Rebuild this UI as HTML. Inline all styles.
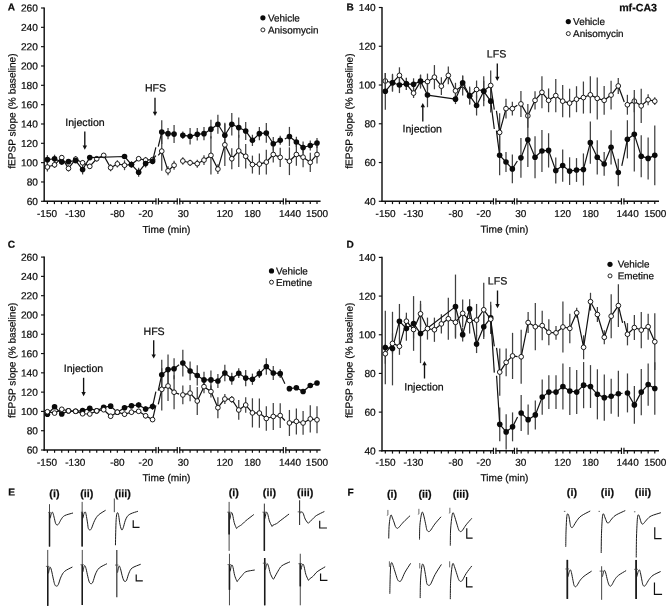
<!DOCTYPE html>
<html><head><meta charset="utf-8"><style>
html,body{margin:0;padding:0;background:#fff;}
svg{display:block;will-change:transform;}
text{font-family:"Liberation Sans",sans-serif;fill:#0c0c0c;stroke:#0c0c0c;stroke-width:0.22px;text-rendering:geometricPrecision;}
</style></head><body>
<svg width="669" height="611" viewBox="0 0 669 611">
<rect x="0" y="0" width="669" height="611" fill="#fff"/>
<line x1="44.20" y1="7.40" x2="44.20" y2="202.00" stroke="#111" stroke-width="1.45" />
<line x1="43.50" y1="201.30" x2="320.60" y2="201.30" stroke="#111" stroke-width="1.4" />
<line x1="41.00" y1="201.30" x2="44.20" y2="201.30" stroke="#111" stroke-width="1.15" />
<text x="37.90" y="204.90" transform="rotate(0.05 37.90 204.90)" font-size="10.15" text-anchor="end" font-weight="normal" >60</text>
<line x1="41.00" y1="181.97" x2="44.20" y2="181.97" stroke="#111" stroke-width="1.15" />
<text x="37.90" y="185.57" transform="rotate(0.05 37.90 185.57)" font-size="10.15" text-anchor="end" font-weight="normal" >80</text>
<line x1="41.00" y1="162.64" x2="44.20" y2="162.64" stroke="#111" stroke-width="1.15" />
<text x="37.90" y="166.24" transform="rotate(0.05 37.90 166.24)" font-size="10.15" text-anchor="end" font-weight="normal" >100</text>
<line x1="41.00" y1="143.31" x2="44.20" y2="143.31" stroke="#111" stroke-width="1.15" />
<text x="37.90" y="146.91" transform="rotate(0.05 37.90 146.91)" font-size="10.15" text-anchor="end" font-weight="normal" >120</text>
<line x1="41.00" y1="123.98" x2="44.20" y2="123.98" stroke="#111" stroke-width="1.15" />
<text x="37.90" y="127.58" transform="rotate(0.05 37.90 127.58)" font-size="10.15" text-anchor="end" font-weight="normal" >140</text>
<line x1="41.00" y1="104.65" x2="44.20" y2="104.65" stroke="#111" stroke-width="1.15" />
<text x="37.90" y="108.25" transform="rotate(0.05 37.90 108.25)" font-size="10.15" text-anchor="end" font-weight="normal" >160</text>
<line x1="41.00" y1="85.32" x2="44.20" y2="85.32" stroke="#111" stroke-width="1.15" />
<text x="37.90" y="88.92" transform="rotate(0.05 37.90 88.92)" font-size="10.15" text-anchor="end" font-weight="normal" >180</text>
<line x1="41.00" y1="65.99" x2="44.20" y2="65.99" stroke="#111" stroke-width="1.15" />
<text x="37.90" y="69.59" transform="rotate(0.05 37.90 69.59)" font-size="10.15" text-anchor="end" font-weight="normal" >200</text>
<line x1="41.00" y1="46.66" x2="44.20" y2="46.66" stroke="#111" stroke-width="1.15" />
<text x="37.90" y="50.26" transform="rotate(0.05 37.90 50.26)" font-size="10.15" text-anchor="end" font-weight="normal" >220</text>
<line x1="41.00" y1="27.33" x2="44.20" y2="27.33" stroke="#111" stroke-width="1.15" />
<text x="37.90" y="30.93" transform="rotate(0.05 37.90 30.93)" font-size="10.15" text-anchor="end" font-weight="normal" >240</text>
<line x1="41.00" y1="8.00" x2="44.20" y2="8.00" stroke="#111" stroke-width="1.15" />
<text x="37.90" y="11.60" transform="rotate(0.05 37.90 11.60)" font-size="10.15" text-anchor="end" font-weight="normal" >260</text>
<line x1="47.40" y1="201.30" x2="47.40" y2="204.10" stroke="#111" stroke-width="1.2" />
<line x1="54.42" y1="201.30" x2="54.42" y2="204.10" stroke="#111" stroke-width="1.2" />
<line x1="61.44" y1="201.30" x2="61.44" y2="204.10" stroke="#111" stroke-width="1.2" />
<line x1="68.46" y1="201.30" x2="68.46" y2="204.10" stroke="#111" stroke-width="1.2" />
<line x1="75.48" y1="201.30" x2="75.48" y2="204.10" stroke="#111" stroke-width="1.2" />
<line x1="82.50" y1="201.30" x2="82.50" y2="204.10" stroke="#111" stroke-width="1.2" />
<line x1="89.52" y1="201.30" x2="89.52" y2="204.10" stroke="#111" stroke-width="1.2" />
<line x1="96.54" y1="201.30" x2="96.54" y2="204.10" stroke="#111" stroke-width="1.2" />
<line x1="103.56" y1="201.30" x2="103.56" y2="204.10" stroke="#111" stroke-width="1.2" />
<line x1="110.58" y1="201.30" x2="110.58" y2="204.10" stroke="#111" stroke-width="1.2" />
<line x1="117.60" y1="201.30" x2="117.60" y2="204.10" stroke="#111" stroke-width="1.2" />
<line x1="124.62" y1="201.30" x2="124.62" y2="204.10" stroke="#111" stroke-width="1.2" />
<line x1="131.64" y1="201.30" x2="131.64" y2="204.10" stroke="#111" stroke-width="1.2" />
<line x1="138.66" y1="201.30" x2="138.66" y2="204.10" stroke="#111" stroke-width="1.2" />
<line x1="145.68" y1="201.30" x2="145.68" y2="204.10" stroke="#111" stroke-width="1.2" />
<line x1="152.70" y1="201.30" x2="152.70" y2="204.10" stroke="#111" stroke-width="1.2" />
<line x1="161.75" y1="201.30" x2="161.75" y2="204.10" stroke="#111" stroke-width="1.2" />
<line x1="168.03" y1="201.30" x2="168.03" y2="204.10" stroke="#111" stroke-width="1.2" />
<line x1="174.08" y1="201.30" x2="174.08" y2="204.10" stroke="#111" stroke-width="1.2" />
<line x1="182.83" y1="201.30" x2="182.83" y2="204.10" stroke="#111" stroke-width="1.2" />
<line x1="190.09" y1="201.30" x2="190.09" y2="204.10" stroke="#111" stroke-width="1.2" />
<line x1="197.26" y1="201.30" x2="197.26" y2="204.10" stroke="#111" stroke-width="1.2" />
<line x1="203.99" y1="201.30" x2="203.99" y2="204.10" stroke="#111" stroke-width="1.2" />
<line x1="210.94" y1="201.30" x2="210.94" y2="204.10" stroke="#111" stroke-width="1.2" />
<line x1="217.89" y1="201.30" x2="217.89" y2="204.10" stroke="#111" stroke-width="1.2" />
<line x1="224.84" y1="201.30" x2="224.84" y2="204.10" stroke="#111" stroke-width="1.2" />
<line x1="231.79" y1="201.30" x2="231.79" y2="204.10" stroke="#111" stroke-width="1.2" />
<line x1="238.74" y1="201.30" x2="238.74" y2="204.10" stroke="#111" stroke-width="1.2" />
<line x1="245.70" y1="201.30" x2="245.70" y2="204.10" stroke="#111" stroke-width="1.2" />
<line x1="252.42" y1="201.30" x2="252.42" y2="204.10" stroke="#111" stroke-width="1.2" />
<line x1="259.37" y1="201.30" x2="259.37" y2="204.10" stroke="#111" stroke-width="1.2" />
<line x1="266.32" y1="201.30" x2="266.32" y2="204.10" stroke="#111" stroke-width="1.2" />
<line x1="273.27" y1="201.30" x2="273.27" y2="204.10" stroke="#111" stroke-width="1.2" />
<line x1="280.22" y1="201.30" x2="280.22" y2="204.10" stroke="#111" stroke-width="1.2" />
<line x1="289.42" y1="201.30" x2="289.42" y2="204.10" stroke="#111" stroke-width="1.2" />
<line x1="296.37" y1="201.30" x2="296.37" y2="204.10" stroke="#111" stroke-width="1.2" />
<line x1="303.09" y1="201.30" x2="303.09" y2="204.10" stroke="#111" stroke-width="1.2" />
<line x1="310.27" y1="201.30" x2="310.27" y2="204.10" stroke="#111" stroke-width="1.2" />
<line x1="317.00" y1="201.30" x2="317.00" y2="204.10" stroke="#111" stroke-width="1.2" />
<rect x="156.50" y="199.3" width="1.4" height="4" fill="#fff"/>
<line x1="155.95" y1="198.20" x2="155.95" y2="204.50" stroke="#111" stroke-width="1.2" />
<line x1="158.45" y1="198.20" x2="158.45" y2="204.50" stroke="#111" stroke-width="1.2" />
<rect x="177.80" y="199.3" width="1.4" height="4" fill="#fff"/>
<line x1="177.25" y1="198.20" x2="177.25" y2="204.50" stroke="#111" stroke-width="1.2" />
<line x1="179.75" y1="198.20" x2="179.75" y2="204.50" stroke="#111" stroke-width="1.2" />
<rect x="283.90" y="199.3" width="1.4" height="4" fill="#fff"/>
<line x1="283.35" y1="198.20" x2="283.35" y2="204.50" stroke="#111" stroke-width="1.2" />
<line x1="285.85" y1="198.20" x2="285.85" y2="204.50" stroke="#111" stroke-width="1.2" />
<text x="47.00" y="217.00" transform="rotate(0.05 47.00 217.00)" font-size="10.0" text-anchor="middle" font-weight="normal" >-150</text>
<text x="75.30" y="217.00" transform="rotate(0.05 75.30 217.00)" font-size="10.0" text-anchor="middle" font-weight="normal" >-130</text>
<text x="117.40" y="217.00" transform="rotate(0.05 117.40 217.00)" font-size="10.0" text-anchor="middle" font-weight="normal" >-80</text>
<text x="145.80" y="217.00" transform="rotate(0.05 145.80 217.00)" font-size="10.0" text-anchor="middle" font-weight="normal" >-20</text>
<text x="183.20" y="217.00" transform="rotate(0.05 183.20 217.00)" font-size="10.0" text-anchor="middle" font-weight="normal" >30</text>
<text x="224.80" y="217.00" transform="rotate(0.05 224.80 217.00)" font-size="10.0" text-anchor="middle" font-weight="normal" >120</text>
<text x="252.60" y="217.00" transform="rotate(0.05 252.60 217.00)" font-size="10.0" text-anchor="middle" font-weight="normal" >180</text>
<text x="290.00" y="217.00" transform="rotate(0.05 290.00 217.00)" font-size="10.0" text-anchor="middle" font-weight="normal" >1440</text>
<text x="317.00" y="217.00" transform="rotate(0.05 317.00 217.00)" font-size="10.0" text-anchor="middle" font-weight="normal" >1500</text>
<text x="166.50" y="233.00" transform="rotate(0.05 166.50 233.00)" font-size="10.15" text-anchor="middle" font-weight="normal" >Time (min)</text>
<text transform="translate(15.4,111.1) rotate(-89.97)" font-size="10.1" text-anchor="middle">fEPSP slope (% baseline)</text>
<line x1="47.40" y1="162.56" x2="47.40" y2="171.52" stroke="#404040" stroke-width="1.25" />
<line x1="54.57" y1="161.66" x2="54.57" y2="167.94" stroke="#404040" stroke-width="1.25" />
<line x1="61.75" y1="154.93" x2="61.75" y2="160.31" stroke="#404040" stroke-width="1.25" />
<line x1="68.48" y1="165.25" x2="68.48" y2="171.52" stroke="#404040" stroke-width="1.25" />
<line x1="75.65" y1="156.05" x2="75.65" y2="162.33" stroke="#404040" stroke-width="1.25" />
<line x1="82.60" y1="160.09" x2="82.60" y2="165.47" stroke="#404040" stroke-width="1.25" />
<line x1="89.78" y1="163.68" x2="89.78" y2="169.06" stroke="#404040" stroke-width="1.25" />
<line x1="96.73" y1="156.05" x2="96.73" y2="161.43" stroke="#404040" stroke-width="1.25" />
<line x1="103.68" y1="153.14" x2="103.68" y2="157.62" stroke="#404040" stroke-width="1.25" />
<line x1="110.63" y1="164.13" x2="110.63" y2="171.30" stroke="#404040" stroke-width="1.25" />
<line x1="117.35" y1="160.31" x2="117.35" y2="167.49" stroke="#404040" stroke-width="1.25" />
<line x1="124.53" y1="160.31" x2="124.53" y2="170.18" stroke="#404040" stroke-width="1.25" />
<line x1="131.48" y1="162.33" x2="131.48" y2="166.82" stroke="#404040" stroke-width="1.25" />
<line x1="138.65" y1="156.50" x2="138.65" y2="160.99" stroke="#404040" stroke-width="1.25" />
<line x1="145.61" y1="156.95" x2="145.61" y2="163.23" stroke="#404040" stroke-width="1.25" />
<line x1="152.56" y1="156.95" x2="152.56" y2="162.33" stroke="#404040" stroke-width="1.25" />
<line x1="161.75" y1="131.39" x2="161.75" y2="170.85" stroke="#404040" stroke-width="1.25" />
<line x1="168.03" y1="166.37" x2="168.03" y2="175.34" stroke="#404040" stroke-width="1.25" />
<line x1="174.08" y1="160.76" x2="174.08" y2="169.73" stroke="#404040" stroke-width="1.25" />
<line x1="182.83" y1="157.17" x2="182.83" y2="164.80" stroke="#404040" stroke-width="1.25" />
<line x1="190.09" y1="159.64" x2="190.09" y2="165.92" stroke="#404040" stroke-width="1.25" />
<line x1="197.26" y1="159.64" x2="197.26" y2="167.71" stroke="#404040" stroke-width="1.25" />
<line x1="203.99" y1="155.16" x2="203.99" y2="165.02" stroke="#404040" stroke-width="1.25" />
<line x1="210.94" y1="136.32" x2="210.94" y2="174.44" stroke="#404040" stroke-width="1.25" />
<line x1="217.89" y1="164.13" x2="217.89" y2="173.99" stroke="#404040" stroke-width="1.25" />
<line x1="224.84" y1="123.77" x2="224.84" y2="165.92" stroke="#404040" stroke-width="1.25" />
<line x1="231.79" y1="148.21" x2="231.79" y2="169.28" stroke="#404040" stroke-width="1.25" />
<line x1="238.74" y1="134.75" x2="238.74" y2="167.04" stroke="#404040" stroke-width="1.25" />
<line x1="245.70" y1="143.95" x2="245.70" y2="168.61" stroke="#404040" stroke-width="1.25" />
<line x1="252.42" y1="155.61" x2="252.42" y2="173.54" stroke="#404040" stroke-width="1.25" />
<line x1="259.37" y1="153.59" x2="259.37" y2="174.66" stroke="#404040" stroke-width="1.25" />
<line x1="266.32" y1="149.78" x2="266.32" y2="174.44" stroke="#404040" stroke-width="1.25" />
<line x1="273.27" y1="146.41" x2="273.27" y2="162.56" stroke="#404040" stroke-width="1.25" />
<line x1="280.22" y1="147.76" x2="280.22" y2="167.04" stroke="#404040" stroke-width="1.25" />
<line x1="289.42" y1="147.31" x2="289.42" y2="175.11" stroke="#404040" stroke-width="1.25" />
<line x1="296.37" y1="143.27" x2="296.37" y2="165.70" stroke="#404040" stroke-width="1.25" />
<line x1="303.09" y1="147.09" x2="303.09" y2="167.26" stroke="#404040" stroke-width="1.25" />
<line x1="310.27" y1="152.69" x2="310.27" y2="171.97" stroke="#404040" stroke-width="1.25" />
<line x1="317.00" y1="145.52" x2="317.00" y2="163.45" stroke="#404040" stroke-width="1.25" />
<line x1="47.40" y1="155.16" x2="47.40" y2="164.13" stroke="#404040" stroke-width="1.25" />
<line x1="54.57" y1="154.71" x2="54.57" y2="162.78" stroke="#404040" stroke-width="1.25" />
<line x1="61.75" y1="159.87" x2="61.75" y2="164.35" stroke="#404040" stroke-width="1.25" />
<line x1="68.48" y1="159.42" x2="68.48" y2="163.90" stroke="#404040" stroke-width="1.25" />
<line x1="75.65" y1="157.85" x2="75.65" y2="163.23" stroke="#404040" stroke-width="1.25" />
<line x1="82.60" y1="164.57" x2="82.60" y2="174.44" stroke="#404040" stroke-width="1.25" />
<line x1="89.78" y1="155.38" x2="89.78" y2="159.87" stroke="#404040" stroke-width="1.25" />
<line x1="124.53" y1="154.26" x2="124.53" y2="158.74" stroke="#404040" stroke-width="1.25" />
<line x1="131.48" y1="161.43" x2="131.48" y2="167.71" stroke="#404040" stroke-width="1.25" />
<line x1="138.65" y1="167.71" x2="138.65" y2="176.68" stroke="#404040" stroke-width="1.25" />
<line x1="145.61" y1="159.42" x2="145.61" y2="167.49" stroke="#404040" stroke-width="1.25" />
<line x1="152.56" y1="158.07" x2="152.56" y2="164.35" stroke="#404040" stroke-width="1.25" />
<line x1="161.75" y1="120.18" x2="161.75" y2="143.95" stroke="#404040" stroke-width="1.25" />
<line x1="168.03" y1="128.03" x2="168.03" y2="139.24" stroke="#404040" stroke-width="1.25" />
<line x1="174.08" y1="125.11" x2="174.08" y2="143.05" stroke="#404040" stroke-width="1.25" />
<line x1="182.83" y1="131.39" x2="182.83" y2="139.01" stroke="#404040" stroke-width="1.25" />
<line x1="190.09" y1="128.03" x2="190.09" y2="144.62" stroke="#404040" stroke-width="1.25" />
<line x1="197.26" y1="128.03" x2="197.26" y2="140.58" stroke="#404040" stroke-width="1.25" />
<line x1="203.99" y1="126.91" x2="203.99" y2="140.36" stroke="#404040" stroke-width="1.25" />
<line x1="210.94" y1="119.73" x2="210.94" y2="138.57" stroke="#404040" stroke-width="1.25" />
<line x1="217.89" y1="114.80" x2="217.89" y2="133.63" stroke="#404040" stroke-width="1.25" />
<line x1="224.84" y1="122.87" x2="224.84" y2="147.53" stroke="#404040" stroke-width="1.25" />
<line x1="231.79" y1="113.00" x2="231.79" y2="135.43" stroke="#404040" stroke-width="1.25" />
<line x1="238.74" y1="117.49" x2="238.74" y2="137.67" stroke="#404040" stroke-width="1.25" />
<line x1="245.70" y1="121.97" x2="245.70" y2="139.91" stroke="#404040" stroke-width="1.25" />
<line x1="252.42" y1="134.75" x2="252.42" y2="145.96" stroke="#404040" stroke-width="1.25" />
<line x1="259.37" y1="126.91" x2="259.37" y2="140.36" stroke="#404040" stroke-width="1.25" />
<line x1="266.32" y1="123.09" x2="266.32" y2="142.83" stroke="#404040" stroke-width="1.25" />
<line x1="273.27" y1="137.00" x2="273.27" y2="150.45" stroke="#404040" stroke-width="1.25" />
<line x1="280.22" y1="135.87" x2="280.22" y2="144.84" stroke="#404040" stroke-width="1.25" />
<line x1="289.42" y1="126.91" x2="289.42" y2="146.19" stroke="#404040" stroke-width="1.25" />
<line x1="296.37" y1="136.77" x2="296.37" y2="147.09" stroke="#404040" stroke-width="1.25" />
<line x1="303.09" y1="141.48" x2="303.09" y2="153.59" stroke="#404040" stroke-width="1.25" />
<line x1="310.27" y1="140.58" x2="310.27" y2="150.45" stroke="#404040" stroke-width="1.25" />
<line x1="317.00" y1="138.12" x2="317.00" y2="147.98" stroke="#404040" stroke-width="1.25" />
<path d="M47.40,167.04 L54.57,164.80 L61.75,157.62 L68.48,168.39 L75.65,159.19 L82.60,162.78 L89.78,166.37 L96.73,158.74 L103.68,155.38 L110.63,167.71 L117.35,163.90 L124.53,165.25 L131.48,164.57 L138.65,158.74 L145.61,160.09 L152.56,159.64" fill="none" stroke="#111" stroke-width="1.2" stroke-linejoin="round"/>
<path d="M152.56,159.64 L155.86,155.62" fill="none" stroke="#111" stroke-width="1.2" stroke-linejoin="round"/>
<path d="M158.25,155.38 L161.75,151.12" fill="none" stroke="#111" stroke-width="1.2" stroke-linejoin="round"/>
<path d="M161.75,151.12 L168.03,170.85 L174.08,165.25" fill="none" stroke="#111" stroke-width="1.2" stroke-linejoin="round"/>
<path d="M182.83,160.99 L190.09,162.78 L197.26,163.68 L203.99,160.09 L210.94,155.38 L217.89,169.06 L224.84,144.84 L231.79,158.74 L238.74,150.90 L245.70,156.28 L252.42,164.57 L259.37,164.13 L266.32,162.11 L273.27,154.48 L280.22,157.40" fill="none" stroke="#111" stroke-width="1.2" stroke-linejoin="round"/>
<path d="M284.82,158.71 L289.42,161.21" fill="none" stroke="#111" stroke-width="1.2" stroke-linejoin="round"/>
<path d="M289.42,161.21 L296.37,154.48 L303.09,157.17 L310.27,162.33 L317.00,154.48" fill="none" stroke="#111" stroke-width="1.2" stroke-linejoin="round"/>
<circle cx="47.40" cy="167.04" r="2.35" fill="#fff" stroke="#111" stroke-width="0.95"/>
<circle cx="54.57" cy="164.80" r="2.35" fill="#fff" stroke="#111" stroke-width="0.95"/>
<circle cx="61.75" cy="157.62" r="2.35" fill="#fff" stroke="#111" stroke-width="0.95"/>
<circle cx="68.48" cy="168.39" r="2.35" fill="#fff" stroke="#111" stroke-width="0.95"/>
<circle cx="75.65" cy="159.19" r="2.35" fill="#fff" stroke="#111" stroke-width="0.95"/>
<circle cx="82.60" cy="162.78" r="2.35" fill="#fff" stroke="#111" stroke-width="0.95"/>
<circle cx="89.78" cy="166.37" r="2.35" fill="#fff" stroke="#111" stroke-width="0.95"/>
<circle cx="96.73" cy="158.74" r="2.35" fill="#fff" stroke="#111" stroke-width="0.95"/>
<circle cx="103.68" cy="155.38" r="2.35" fill="#fff" stroke="#111" stroke-width="0.95"/>
<circle cx="110.63" cy="167.71" r="2.35" fill="#fff" stroke="#111" stroke-width="0.95"/>
<circle cx="117.35" cy="163.90" r="2.35" fill="#fff" stroke="#111" stroke-width="0.95"/>
<circle cx="124.53" cy="165.25" r="2.35" fill="#fff" stroke="#111" stroke-width="0.95"/>
<circle cx="131.48" cy="164.57" r="2.35" fill="#fff" stroke="#111" stroke-width="0.95"/>
<circle cx="138.65" cy="158.74" r="2.35" fill="#fff" stroke="#111" stroke-width="0.95"/>
<circle cx="145.61" cy="160.09" r="2.35" fill="#fff" stroke="#111" stroke-width="0.95"/>
<circle cx="152.56" cy="159.64" r="2.35" fill="#fff" stroke="#111" stroke-width="0.95"/>
<circle cx="161.75" cy="151.12" r="2.35" fill="#fff" stroke="#111" stroke-width="0.95"/>
<circle cx="168.03" cy="170.85" r="2.35" fill="#fff" stroke="#111" stroke-width="0.95"/>
<circle cx="174.08" cy="165.25" r="2.35" fill="#fff" stroke="#111" stroke-width="0.95"/>
<circle cx="182.83" cy="160.99" r="2.35" fill="#fff" stroke="#111" stroke-width="0.95"/>
<circle cx="190.09" cy="162.78" r="2.35" fill="#fff" stroke="#111" stroke-width="0.95"/>
<circle cx="197.26" cy="163.68" r="2.35" fill="#fff" stroke="#111" stroke-width="0.95"/>
<circle cx="203.99" cy="160.09" r="2.35" fill="#fff" stroke="#111" stroke-width="0.95"/>
<circle cx="210.94" cy="155.38" r="2.35" fill="#fff" stroke="#111" stroke-width="0.95"/>
<circle cx="217.89" cy="169.06" r="2.35" fill="#fff" stroke="#111" stroke-width="0.95"/>
<circle cx="224.84" cy="144.84" r="2.35" fill="#fff" stroke="#111" stroke-width="0.95"/>
<circle cx="231.79" cy="158.74" r="2.35" fill="#fff" stroke="#111" stroke-width="0.95"/>
<circle cx="238.74" cy="150.90" r="2.35" fill="#fff" stroke="#111" stroke-width="0.95"/>
<circle cx="245.70" cy="156.28" r="2.35" fill="#fff" stroke="#111" stroke-width="0.95"/>
<circle cx="252.42" cy="164.57" r="2.35" fill="#fff" stroke="#111" stroke-width="0.95"/>
<circle cx="259.37" cy="164.13" r="2.35" fill="#fff" stroke="#111" stroke-width="0.95"/>
<circle cx="266.32" cy="162.11" r="2.35" fill="#fff" stroke="#111" stroke-width="0.95"/>
<circle cx="273.27" cy="154.48" r="2.35" fill="#fff" stroke="#111" stroke-width="0.95"/>
<circle cx="280.22" cy="157.40" r="2.35" fill="#fff" stroke="#111" stroke-width="0.95"/>
<circle cx="289.42" cy="161.21" r="2.35" fill="#fff" stroke="#111" stroke-width="0.95"/>
<circle cx="296.37" cy="154.48" r="2.35" fill="#fff" stroke="#111" stroke-width="0.95"/>
<circle cx="303.09" cy="157.17" r="2.35" fill="#fff" stroke="#111" stroke-width="0.95"/>
<circle cx="310.27" cy="162.33" r="2.35" fill="#fff" stroke="#111" stroke-width="0.95"/>
<circle cx="317.00" cy="154.48" r="2.35" fill="#fff" stroke="#111" stroke-width="0.95"/>
<path d="M47.40,159.64 L54.57,158.74 L61.75,162.11 L68.48,161.66 L75.65,160.54 L82.60,169.51 L89.78,157.62 L124.53,156.50 L131.48,164.57 L138.65,172.20 L145.61,163.45 L152.56,161.21" fill="none" stroke="#111" stroke-width="1.2" stroke-linejoin="round"/>
<path d="M152.56,161.21 L155.86,147.47" fill="none" stroke="#111" stroke-width="1.2" stroke-linejoin="round"/>
<path d="M158.25,146.64 L161.75,132.06" fill="none" stroke="#111" stroke-width="1.2" stroke-linejoin="round"/>
<path d="M161.75,132.06 L168.03,133.63 L174.08,134.08" fill="none" stroke="#111" stroke-width="1.2" stroke-linejoin="round"/>
<path d="M182.83,135.20 L190.09,136.32 L197.26,134.30 L203.99,133.63 L210.94,129.15 L217.89,124.22 L224.84,135.20 L231.79,124.22 L238.74,127.58 L245.70,130.94 L252.42,140.36 L259.37,133.63 L266.32,132.96 L273.27,143.72 L280.22,140.36" fill="none" stroke="#111" stroke-width="1.2" stroke-linejoin="round"/>
<path d="M284.82,139.05 L289.42,136.55" fill="none" stroke="#111" stroke-width="1.2" stroke-linejoin="round"/>
<path d="M289.42,136.55 L296.37,141.93 L303.09,147.53 L310.27,145.52 L317.00,143.05" fill="none" stroke="#111" stroke-width="1.2" stroke-linejoin="round"/>
<circle cx="47.40" cy="159.64" r="2.8" fill="#0a0a0a"/>
<circle cx="54.57" cy="158.74" r="2.8" fill="#0a0a0a"/>
<circle cx="61.75" cy="162.11" r="2.8" fill="#0a0a0a"/>
<circle cx="68.48" cy="161.66" r="2.8" fill="#0a0a0a"/>
<circle cx="75.65" cy="160.54" r="2.8" fill="#0a0a0a"/>
<circle cx="82.60" cy="169.51" r="2.8" fill="#0a0a0a"/>
<circle cx="89.78" cy="157.62" r="2.8" fill="#0a0a0a"/>
<circle cx="124.53" cy="156.50" r="2.8" fill="#0a0a0a"/>
<circle cx="131.48" cy="164.57" r="2.8" fill="#0a0a0a"/>
<circle cx="138.65" cy="172.20" r="2.8" fill="#0a0a0a"/>
<circle cx="145.61" cy="163.45" r="2.8" fill="#0a0a0a"/>
<circle cx="152.56" cy="161.21" r="2.8" fill="#0a0a0a"/>
<circle cx="161.75" cy="132.06" r="2.8" fill="#0a0a0a"/>
<circle cx="168.03" cy="133.63" r="2.8" fill="#0a0a0a"/>
<circle cx="174.08" cy="134.08" r="2.8" fill="#0a0a0a"/>
<circle cx="182.83" cy="135.20" r="2.8" fill="#0a0a0a"/>
<circle cx="190.09" cy="136.32" r="2.8" fill="#0a0a0a"/>
<circle cx="197.26" cy="134.30" r="2.8" fill="#0a0a0a"/>
<circle cx="203.99" cy="133.63" r="2.8" fill="#0a0a0a"/>
<circle cx="210.94" cy="129.15" r="2.8" fill="#0a0a0a"/>
<circle cx="217.89" cy="124.22" r="2.8" fill="#0a0a0a"/>
<circle cx="224.84" cy="135.20" r="2.8" fill="#0a0a0a"/>
<circle cx="231.79" cy="124.22" r="2.8" fill="#0a0a0a"/>
<circle cx="238.74" cy="127.58" r="2.8" fill="#0a0a0a"/>
<circle cx="245.70" cy="130.94" r="2.8" fill="#0a0a0a"/>
<circle cx="252.42" cy="140.36" r="2.8" fill="#0a0a0a"/>
<circle cx="259.37" cy="133.63" r="2.8" fill="#0a0a0a"/>
<circle cx="266.32" cy="132.96" r="2.8" fill="#0a0a0a"/>
<circle cx="273.27" cy="143.72" r="2.8" fill="#0a0a0a"/>
<circle cx="280.22" cy="140.36" r="2.8" fill="#0a0a0a"/>
<circle cx="289.42" cy="136.55" r="2.8" fill="#0a0a0a"/>
<circle cx="296.37" cy="141.93" r="2.8" fill="#0a0a0a"/>
<circle cx="303.09" cy="147.53" r="2.8" fill="#0a0a0a"/>
<circle cx="310.27" cy="145.52" r="2.8" fill="#0a0a0a"/>
<circle cx="317.00" cy="143.05" r="2.8" fill="#0a0a0a"/>
<text x="7.80" y="10.60" transform="rotate(0.05 7.80 10.60)" font-size="10.1" text-anchor="start" font-weight="bold" >A</text>
<circle cx="262.9" cy="17.8" r="2.6" fill="#0a0a0a"/>
<circle cx="262.9" cy="29.9" r="2.0" fill="#fff" stroke="#111" stroke-width="0.9"/>
<text x="268.00" y="21.60" transform="rotate(0.05 268.00 21.60)" font-size="9.9" text-anchor="start" font-weight="normal" >Vehicle</text>
<text x="268.00" y="33.40" transform="rotate(0.05 268.00 33.40)" font-size="9.9" text-anchor="start" font-weight="normal" >Anisomycin</text>
<text x="85.00" y="126.00" transform="rotate(0.05 85.00 126.00)" font-size="10.6" text-anchor="middle" font-weight="normal" >Injection</text>
<line x1="84.80" y1="131.50" x2="84.80" y2="147.80" stroke="#111" stroke-width="1.35" />
<path d="M82.60,145.60 L84.80,149.80 L87.00,145.60 Z" fill="#111"/>
<text x="155.50" y="91.50" transform="rotate(0.05 155.50 91.50)" font-size="10.6" text-anchor="middle" font-weight="normal" >HFS</text>
<line x1="155.00" y1="97.80" x2="155.00" y2="114.00" stroke="#111" stroke-width="1.35" />
<path d="M152.80,111.80 L155.00,116.00 L157.20,111.80 Z" fill="#111"/>
<line x1="382.00" y1="6.90" x2="382.00" y2="202.00" stroke="#111" stroke-width="1.45" />
<line x1="381.30" y1="201.30" x2="659.00" y2="201.30" stroke="#111" stroke-width="1.4" />
<line x1="378.80" y1="201.30" x2="382.00" y2="201.30" stroke="#111" stroke-width="1.15" />
<text x="375.70" y="204.90" transform="rotate(0.05 375.70 204.90)" font-size="10.15" text-anchor="end" font-weight="normal" >40</text>
<line x1="378.80" y1="162.54" x2="382.00" y2="162.54" stroke="#111" stroke-width="1.15" />
<text x="375.70" y="166.14" transform="rotate(0.05 375.70 166.14)" font-size="10.15" text-anchor="end" font-weight="normal" >60</text>
<line x1="378.80" y1="123.78" x2="382.00" y2="123.78" stroke="#111" stroke-width="1.15" />
<text x="375.70" y="127.38" transform="rotate(0.05 375.70 127.38)" font-size="10.15" text-anchor="end" font-weight="normal" >80</text>
<line x1="378.80" y1="85.02" x2="382.00" y2="85.02" stroke="#111" stroke-width="1.15" />
<text x="375.70" y="88.62" transform="rotate(0.05 375.70 88.62)" font-size="10.15" text-anchor="end" font-weight="normal" >100</text>
<line x1="378.80" y1="46.26" x2="382.00" y2="46.26" stroke="#111" stroke-width="1.15" />
<text x="375.70" y="49.86" transform="rotate(0.05 375.70 49.86)" font-size="10.15" text-anchor="end" font-weight="normal" >120</text>
<line x1="378.80" y1="7.50" x2="382.00" y2="7.50" stroke="#111" stroke-width="1.15" />
<text x="375.70" y="11.10" transform="rotate(0.05 375.70 11.10)" font-size="10.15" text-anchor="end" font-weight="normal" >140</text>
<line x1="385.31" y1="201.30" x2="385.31" y2="204.10" stroke="#111" stroke-width="1.2" />
<line x1="392.49" y1="201.30" x2="392.49" y2="204.10" stroke="#111" stroke-width="1.2" />
<line x1="399.44" y1="201.30" x2="399.44" y2="204.10" stroke="#111" stroke-width="1.2" />
<line x1="406.39" y1="201.30" x2="406.39" y2="204.10" stroke="#111" stroke-width="1.2" />
<line x1="413.57" y1="201.30" x2="413.57" y2="204.10" stroke="#111" stroke-width="1.2" />
<line x1="420.52" y1="201.30" x2="420.52" y2="204.10" stroke="#111" stroke-width="1.2" />
<line x1="427.47" y1="201.30" x2="427.47" y2="204.10" stroke="#111" stroke-width="1.2" />
<line x1="434.42" y1="201.30" x2="434.42" y2="204.10" stroke="#111" stroke-width="1.2" />
<line x1="441.37" y1="201.30" x2="441.37" y2="204.10" stroke="#111" stroke-width="1.2" />
<line x1="448.32" y1="201.30" x2="448.32" y2="204.10" stroke="#111" stroke-width="1.2" />
<line x1="455.49" y1="201.30" x2="455.49" y2="204.10" stroke="#111" stroke-width="1.2" />
<line x1="462.67" y1="201.30" x2="462.67" y2="204.10" stroke="#111" stroke-width="1.2" />
<line x1="469.62" y1="201.30" x2="469.62" y2="204.10" stroke="#111" stroke-width="1.2" />
<line x1="476.57" y1="201.30" x2="476.57" y2="204.10" stroke="#111" stroke-width="1.2" />
<line x1="483.74" y1="201.30" x2="483.74" y2="204.10" stroke="#111" stroke-width="1.2" />
<line x1="490.70" y1="201.30" x2="490.70" y2="204.10" stroke="#111" stroke-width="1.2" />
<line x1="499.63" y1="201.30" x2="499.63" y2="204.10" stroke="#111" stroke-width="1.2" />
<line x1="505.99" y1="201.30" x2="505.99" y2="204.10" stroke="#111" stroke-width="1.2" />
<line x1="512.35" y1="201.30" x2="512.35" y2="204.10" stroke="#111" stroke-width="1.2" />
<line x1="520.93" y1="201.30" x2="520.93" y2="204.10" stroke="#111" stroke-width="1.2" />
<line x1="527.84" y1="201.30" x2="527.84" y2="204.10" stroke="#111" stroke-width="1.2" />
<line x1="535.03" y1="201.30" x2="535.03" y2="204.10" stroke="#111" stroke-width="1.2" />
<line x1="541.94" y1="201.30" x2="541.94" y2="204.10" stroke="#111" stroke-width="1.2" />
<line x1="548.58" y1="201.30" x2="548.58" y2="204.10" stroke="#111" stroke-width="1.2" />
<line x1="555.77" y1="201.30" x2="555.77" y2="204.10" stroke="#111" stroke-width="1.2" />
<line x1="562.68" y1="201.30" x2="562.68" y2="204.10" stroke="#111" stroke-width="1.2" />
<line x1="569.60" y1="201.30" x2="569.60" y2="204.10" stroke="#111" stroke-width="1.2" />
<line x1="576.51" y1="201.30" x2="576.51" y2="204.10" stroke="#111" stroke-width="1.2" />
<line x1="583.42" y1="201.30" x2="583.42" y2="204.10" stroke="#111" stroke-width="1.2" />
<line x1="590.34" y1="201.30" x2="590.34" y2="204.10" stroke="#111" stroke-width="1.2" />
<line x1="597.25" y1="201.30" x2="597.25" y2="204.10" stroke="#111" stroke-width="1.2" />
<line x1="604.16" y1="201.30" x2="604.16" y2="204.10" stroke="#111" stroke-width="1.2" />
<line x1="611.08" y1="201.30" x2="611.08" y2="204.10" stroke="#111" stroke-width="1.2" />
<line x1="618.27" y1="201.30" x2="618.27" y2="204.10" stroke="#111" stroke-width="1.2" />
<line x1="627.39" y1="201.30" x2="627.39" y2="204.10" stroke="#111" stroke-width="1.2" />
<line x1="634.30" y1="201.30" x2="634.30" y2="204.10" stroke="#111" stroke-width="1.2" />
<line x1="641.22" y1="201.30" x2="641.22" y2="204.10" stroke="#111" stroke-width="1.2" />
<line x1="648.13" y1="201.30" x2="648.13" y2="204.10" stroke="#111" stroke-width="1.2" />
<line x1="654.77" y1="201.30" x2="654.77" y2="204.10" stroke="#111" stroke-width="1.2" />
<rect x="494.00" y="199.3" width="1.4" height="4" fill="#fff"/>
<line x1="493.45" y1="198.20" x2="493.45" y2="204.50" stroke="#111" stroke-width="1.2" />
<line x1="495.95" y1="198.20" x2="495.95" y2="204.50" stroke="#111" stroke-width="1.2" />
<rect x="515.00" y="199.3" width="1.4" height="4" fill="#fff"/>
<line x1="514.45" y1="198.20" x2="514.45" y2="204.50" stroke="#111" stroke-width="1.2" />
<line x1="516.95" y1="198.20" x2="516.95" y2="204.50" stroke="#111" stroke-width="1.2" />
<rect x="622.00" y="199.3" width="1.4" height="4" fill="#fff"/>
<line x1="621.45" y1="198.20" x2="621.45" y2="204.50" stroke="#111" stroke-width="1.2" />
<line x1="623.95" y1="198.20" x2="623.95" y2="204.50" stroke="#111" stroke-width="1.2" />
<text x="385.60" y="217.00" transform="rotate(0.05 385.60 217.00)" font-size="10.0" text-anchor="middle" font-weight="normal" >-150</text>
<text x="413.40" y="217.00" transform="rotate(0.05 413.40 217.00)" font-size="10.0" text-anchor="middle" font-weight="normal" >-130</text>
<text x="455.80" y="217.00" transform="rotate(0.05 455.80 217.00)" font-size="10.0" text-anchor="middle" font-weight="normal" >-80</text>
<text x="483.80" y="217.00" transform="rotate(0.05 483.80 217.00)" font-size="10.0" text-anchor="middle" font-weight="normal" >-20</text>
<text x="520.80" y="217.00" transform="rotate(0.05 520.80 217.00)" font-size="10.0" text-anchor="middle" font-weight="normal" >30</text>
<text x="562.70" y="217.00" transform="rotate(0.05 562.70 217.00)" font-size="10.0" text-anchor="middle" font-weight="normal" >120</text>
<text x="590.50" y="217.00" transform="rotate(0.05 590.50 217.00)" font-size="10.0" text-anchor="middle" font-weight="normal" >180</text>
<text x="627.60" y="217.00" transform="rotate(0.05 627.60 217.00)" font-size="10.0" text-anchor="middle" font-weight="normal" >1440</text>
<text x="655.30" y="217.00" transform="rotate(0.05 655.30 217.00)" font-size="10.0" text-anchor="middle" font-weight="normal" >1500</text>
<text x="504.40" y="232.80" transform="rotate(0.05 504.40 232.80)" font-size="10.15" text-anchor="middle" font-weight="normal" >Time (min)</text>
<text transform="translate(352.6,111.1) rotate(-89.97)" font-size="10.1" text-anchor="middle">fEPSP slope (% baseline)</text>
<line x1="385.31" y1="72.91" x2="385.31" y2="89.06" stroke="#404040" stroke-width="1.25" />
<line x1="392.49" y1="73.81" x2="392.49" y2="91.75" stroke="#404040" stroke-width="1.25" />
<line x1="399.44" y1="67.31" x2="399.44" y2="83.45" stroke="#404040" stroke-width="1.25" />
<line x1="406.39" y1="77.85" x2="406.39" y2="89.96" stroke="#404040" stroke-width="1.25" />
<line x1="413.57" y1="88.16" x2="413.57" y2="98.03" stroke="#404040" stroke-width="1.25" />
<line x1="420.52" y1="74.71" x2="420.52" y2="88.61" stroke="#404040" stroke-width="1.25" />
<line x1="427.47" y1="73.59" x2="427.47" y2="89.73" stroke="#404040" stroke-width="1.25" />
<line x1="434.42" y1="65.07" x2="434.42" y2="89.28" stroke="#404040" stroke-width="1.25" />
<line x1="441.37" y1="77.17" x2="441.37" y2="95.11" stroke="#404040" stroke-width="1.25" />
<line x1="448.32" y1="66.41" x2="448.32" y2="84.35" stroke="#404040" stroke-width="1.25" />
<line x1="455.49" y1="82.78" x2="455.49" y2="98.92" stroke="#404040" stroke-width="1.25" />
<line x1="462.67" y1="75.38" x2="462.67" y2="95.56" stroke="#404040" stroke-width="1.25" />
<line x1="469.62" y1="88.16" x2="469.62" y2="104.30" stroke="#404040" stroke-width="1.25" />
<line x1="476.57" y1="80.54" x2="476.57" y2="98.48" stroke="#404040" stroke-width="1.25" />
<line x1="483.74" y1="80.76" x2="483.74" y2="100.94" stroke="#404040" stroke-width="1.25" />
<line x1="490.70" y1="70.45" x2="490.70" y2="100.49" stroke="#404040" stroke-width="1.25" />
<line x1="499.63" y1="113.33" x2="499.63" y2="151.49" stroke="#404040" stroke-width="1.25" />
<line x1="505.99" y1="98.67" x2="505.99" y2="118.58" stroke="#404040" stroke-width="1.25" />
<line x1="512.35" y1="101.71" x2="512.35" y2="115.54" stroke="#404040" stroke-width="1.25" />
<line x1="520.93" y1="90.93" x2="520.93" y2="116.92" stroke="#404040" stroke-width="1.25" />
<line x1="527.84" y1="103.92" x2="527.84" y2="127.71" stroke="#404040" stroke-width="1.25" />
<line x1="535.03" y1="91.20" x2="535.03" y2="109.45" stroke="#404040" stroke-width="1.25" />
<line x1="541.94" y1="76.27" x2="541.94" y2="108.35" stroke="#404040" stroke-width="1.25" />
<line x1="548.58" y1="88.44" x2="548.58" y2="112.22" stroke="#404040" stroke-width="1.25" />
<line x1="555.77" y1="79.04" x2="555.77" y2="112.22" stroke="#404040" stroke-width="1.25" />
<line x1="562.68" y1="85.12" x2="562.68" y2="117.20" stroke="#404040" stroke-width="1.25" />
<line x1="569.60" y1="88.71" x2="569.60" y2="117.47" stroke="#404040" stroke-width="1.25" />
<line x1="576.51" y1="86.23" x2="576.51" y2="112.22" stroke="#404040" stroke-width="1.25" />
<line x1="583.42" y1="81.52" x2="583.42" y2="113.60" stroke="#404040" stroke-width="1.25" />
<line x1="590.34" y1="76.27" x2="590.34" y2="113.33" stroke="#404040" stroke-width="1.25" />
<line x1="597.25" y1="77.38" x2="597.25" y2="119.41" stroke="#404040" stroke-width="1.25" />
<line x1="604.16" y1="85.95" x2="604.16" y2="114.71" stroke="#404040" stroke-width="1.25" />
<line x1="611.08" y1="80.70" x2="611.08" y2="109.45" stroke="#404040" stroke-width="1.25" />
<line x1="618.27" y1="77.93" x2="618.27" y2="93.97" stroke="#404040" stroke-width="1.25" />
<line x1="627.39" y1="94.80" x2="627.39" y2="114.71" stroke="#404040" stroke-width="1.25" />
<line x1="634.30" y1="90.10" x2="634.30" y2="112.22" stroke="#404040" stroke-width="1.25" />
<line x1="641.22" y1="88.71" x2="641.22" y2="123.00" stroke="#404040" stroke-width="1.25" />
<line x1="648.13" y1="94.25" x2="648.13" y2="105.31" stroke="#404040" stroke-width="1.25" />
<line x1="654.77" y1="97.29" x2="654.77" y2="105.03" stroke="#404040" stroke-width="1.25" />
<path d="M385.31,80.99 L392.49,82.78 L399.44,75.38 L406.39,83.90 L413.57,93.09 L420.52,81.66 L427.47,81.66 L434.42,77.17 L441.37,86.14 L448.32,75.38 L455.49,90.85 L462.67,85.47 L469.62,96.23 L476.57,89.51 L483.74,90.85 L490.70,85.47" fill="none" stroke="#111" stroke-width="1.2" stroke-linejoin="round"/>
<path d="M490.70,85.47 L494.30,109.61" fill="none" stroke="#111" stroke-width="1.2" stroke-linejoin="round"/>
<path d="M496.43,110.95 L499.63,132.41" fill="none" stroke="#111" stroke-width="1.2" stroke-linejoin="round"/>
<path d="M499.63,132.41 L505.99,108.62 L512.35,108.62" fill="none" stroke="#111" stroke-width="1.2" stroke-linejoin="round"/>
<path d="M512.35,108.62 L517.35,105.27" fill="none" stroke="#111" stroke-width="1.2" stroke-linejoin="round"/>
<path d="M520.93,103.92 L527.84,115.81 L535.03,100.33 L541.94,92.31 L548.58,100.33 L555.77,95.63 L562.68,101.16 L569.60,103.09 L576.51,99.22 L583.42,97.56 L590.34,94.80 L597.25,98.39 L604.16,100.33 L611.08,95.07 L618.27,85.95" fill="none" stroke="#111" stroke-width="1.2" stroke-linejoin="round"/>
<path d="M618.27,85.95 L624.27,102.07" fill="none" stroke="#111" stroke-width="1.2" stroke-linejoin="round"/>
<path d="M627.39,104.75 L634.30,101.16 L641.22,105.86 L648.13,99.78 L654.77,101.16" fill="none" stroke="#111" stroke-width="1.2" stroke-linejoin="round"/>
<circle cx="385.31" cy="80.99" r="2.35" fill="#fff" stroke="#111" stroke-width="0.95"/>
<circle cx="392.49" cy="82.78" r="2.35" fill="#fff" stroke="#111" stroke-width="0.95"/>
<circle cx="399.44" cy="75.38" r="2.35" fill="#fff" stroke="#111" stroke-width="0.95"/>
<circle cx="406.39" cy="83.90" r="2.35" fill="#fff" stroke="#111" stroke-width="0.95"/>
<circle cx="413.57" cy="93.09" r="2.35" fill="#fff" stroke="#111" stroke-width="0.95"/>
<circle cx="420.52" cy="81.66" r="2.35" fill="#fff" stroke="#111" stroke-width="0.95"/>
<circle cx="427.47" cy="81.66" r="2.35" fill="#fff" stroke="#111" stroke-width="0.95"/>
<circle cx="434.42" cy="77.17" r="2.35" fill="#fff" stroke="#111" stroke-width="0.95"/>
<circle cx="441.37" cy="86.14" r="2.35" fill="#fff" stroke="#111" stroke-width="0.95"/>
<circle cx="448.32" cy="75.38" r="2.35" fill="#fff" stroke="#111" stroke-width="0.95"/>
<circle cx="455.49" cy="90.85" r="2.35" fill="#fff" stroke="#111" stroke-width="0.95"/>
<circle cx="462.67" cy="85.47" r="2.35" fill="#fff" stroke="#111" stroke-width="0.95"/>
<circle cx="469.62" cy="96.23" r="2.35" fill="#fff" stroke="#111" stroke-width="0.95"/>
<circle cx="476.57" cy="89.51" r="2.35" fill="#fff" stroke="#111" stroke-width="0.95"/>
<circle cx="483.74" cy="90.85" r="2.35" fill="#fff" stroke="#111" stroke-width="0.95"/>
<circle cx="490.70" cy="85.47" r="2.35" fill="#fff" stroke="#111" stroke-width="0.95"/>
<circle cx="499.63" cy="132.41" r="2.35" fill="#fff" stroke="#111" stroke-width="0.95"/>
<circle cx="505.99" cy="108.62" r="2.35" fill="#fff" stroke="#111" stroke-width="0.95"/>
<circle cx="512.35" cy="108.62" r="2.35" fill="#fff" stroke="#111" stroke-width="0.95"/>
<circle cx="520.93" cy="103.92" r="2.35" fill="#fff" stroke="#111" stroke-width="0.95"/>
<circle cx="527.84" cy="115.81" r="2.35" fill="#fff" stroke="#111" stroke-width="0.95"/>
<circle cx="535.03" cy="100.33" r="2.35" fill="#fff" stroke="#111" stroke-width="0.95"/>
<circle cx="541.94" cy="92.31" r="2.35" fill="#fff" stroke="#111" stroke-width="0.95"/>
<circle cx="548.58" cy="100.33" r="2.35" fill="#fff" stroke="#111" stroke-width="0.95"/>
<circle cx="555.77" cy="95.63" r="2.35" fill="#fff" stroke="#111" stroke-width="0.95"/>
<circle cx="562.68" cy="101.16" r="2.35" fill="#fff" stroke="#111" stroke-width="0.95"/>
<circle cx="569.60" cy="103.09" r="2.35" fill="#fff" stroke="#111" stroke-width="0.95"/>
<circle cx="576.51" cy="99.22" r="2.35" fill="#fff" stroke="#111" stroke-width="0.95"/>
<circle cx="583.42" cy="97.56" r="2.35" fill="#fff" stroke="#111" stroke-width="0.95"/>
<circle cx="590.34" cy="94.80" r="2.35" fill="#fff" stroke="#111" stroke-width="0.95"/>
<circle cx="597.25" cy="98.39" r="2.35" fill="#fff" stroke="#111" stroke-width="0.95"/>
<circle cx="604.16" cy="100.33" r="2.35" fill="#fff" stroke="#111" stroke-width="0.95"/>
<circle cx="611.08" cy="95.07" r="2.35" fill="#fff" stroke="#111" stroke-width="0.95"/>
<circle cx="618.27" cy="85.95" r="2.35" fill="#fff" stroke="#111" stroke-width="0.95"/>
<circle cx="627.39" cy="104.75" r="2.35" fill="#fff" stroke="#111" stroke-width="0.95"/>
<circle cx="634.30" cy="101.16" r="2.35" fill="#fff" stroke="#111" stroke-width="0.95"/>
<circle cx="641.22" cy="105.86" r="2.35" fill="#fff" stroke="#111" stroke-width="0.95"/>
<circle cx="648.13" cy="99.78" r="2.35" fill="#fff" stroke="#111" stroke-width="0.95"/>
<circle cx="654.77" cy="101.16" r="2.35" fill="#fff" stroke="#111" stroke-width="0.95"/>
<line x1="385.31" y1="72.91" x2="385.31" y2="109.69" stroke="#404040" stroke-width="1.25" />
<line x1="392.49" y1="74.71" x2="392.49" y2="90.85" stroke="#404040" stroke-width="1.25" />
<line x1="399.44" y1="76.95" x2="399.44" y2="93.09" stroke="#404040" stroke-width="1.25" />
<line x1="406.39" y1="77.85" x2="406.39" y2="89.96" stroke="#404040" stroke-width="1.25" />
<line x1="413.57" y1="78.30" x2="413.57" y2="90.40" stroke="#404040" stroke-width="1.25" />
<line x1="420.52" y1="74.71" x2="420.52" y2="87.26" stroke="#404040" stroke-width="1.25" />
<line x1="427.47" y1="83.00" x2="427.47" y2="107.22" stroke="#404040" stroke-width="1.25" />
<line x1="455.49" y1="94.22" x2="455.49" y2="104.08" stroke="#404040" stroke-width="1.25" />
<line x1="462.67" y1="75.83" x2="462.67" y2="89.73" stroke="#404040" stroke-width="1.25" />
<line x1="469.62" y1="86.59" x2="469.62" y2="104.53" stroke="#404040" stroke-width="1.25" />
<line x1="476.57" y1="95.34" x2="476.57" y2="115.52" stroke="#404040" stroke-width="1.25" />
<line x1="483.74" y1="76.28" x2="483.74" y2="106.32" stroke="#404040" stroke-width="1.25" />
<line x1="490.70" y1="89.96" x2="490.70" y2="112.38" stroke="#404040" stroke-width="1.25" />
<line x1="499.63" y1="135.45" x2="499.63" y2="175.27" stroke="#404040" stroke-width="1.25" />
<line x1="505.99" y1="152.04" x2="505.99" y2="171.95" stroke="#404040" stroke-width="1.25" />
<line x1="512.35" y1="154.53" x2="512.35" y2="183.29" stroke="#404040" stroke-width="1.25" />
<line x1="520.93" y1="137.94" x2="520.93" y2="177.76" stroke="#404040" stroke-width="1.25" />
<line x1="527.84" y1="112.77" x2="527.84" y2="166.97" stroke="#404040" stroke-width="1.25" />
<line x1="535.03" y1="136.28" x2="535.03" y2="178.31" stroke="#404040" stroke-width="1.25" />
<line x1="541.94" y1="129.92" x2="541.94" y2="171.95" stroke="#404040" stroke-width="1.25" />
<line x1="548.58" y1="133.24" x2="548.58" y2="167.53" stroke="#404040" stroke-width="1.25" />
<line x1="555.77" y1="157.57" x2="555.77" y2="183.57" stroke="#404040" stroke-width="1.25" />
<line x1="562.68" y1="149.55" x2="562.68" y2="181.63" stroke="#404040" stroke-width="1.25" />
<line x1="569.60" y1="157.29" x2="569.60" y2="184.95" stroke="#404040" stroke-width="1.25" />
<line x1="576.51" y1="158.12" x2="576.51" y2="181.91" stroke="#404040" stroke-width="1.25" />
<line x1="583.42" y1="153.42" x2="583.42" y2="185.50" stroke="#404040" stroke-width="1.25" />
<line x1="590.34" y1="121.62" x2="590.34" y2="163.65" stroke="#404040" stroke-width="1.25" />
<line x1="597.25" y1="140.15" x2="597.25" y2="174.44" stroke="#404040" stroke-width="1.25" />
<line x1="604.16" y1="152.04" x2="604.16" y2="175.82" stroke="#404040" stroke-width="1.25" />
<line x1="611.08" y1="130.19" x2="611.08" y2="164.48" stroke="#404040" stroke-width="1.25" />
<line x1="618.27" y1="158.68" x2="618.27" y2="186.33" stroke="#404040" stroke-width="1.25" />
<line x1="627.39" y1="120.24" x2="627.39" y2="158.40" stroke="#404040" stroke-width="1.25" />
<line x1="634.30" y1="97.29" x2="634.30" y2="171.40" stroke="#404040" stroke-width="1.25" />
<line x1="641.22" y1="135.17" x2="641.22" y2="177.20" stroke="#404040" stroke-width="1.25" />
<line x1="648.13" y1="137.38" x2="648.13" y2="179.42" stroke="#404040" stroke-width="1.25" />
<line x1="654.77" y1="125.49" x2="654.77" y2="185.22" stroke="#404040" stroke-width="1.25" />
<path d="M385.31,91.30 L392.49,82.78 L399.44,85.02 L406.39,83.90 L413.57,84.35 L420.52,80.99 L427.47,95.11 L455.49,99.15 L462.67,82.78 L469.62,95.56 L476.57,105.43 L483.74,91.30 L490.70,101.17" fill="none" stroke="#111" stroke-width="1.2" stroke-linejoin="round"/>
<path d="M490.70,101.17 L494.30,129.04" fill="none" stroke="#111" stroke-width="1.2" stroke-linejoin="round"/>
<path d="M496.43,130.58 L499.63,155.36" fill="none" stroke="#111" stroke-width="1.2" stroke-linejoin="round"/>
<path d="M499.63,155.36 L505.99,162.00 L512.35,168.91" fill="none" stroke="#111" stroke-width="1.2" stroke-linejoin="round"/>
<path d="M512.35,168.91 L517.35,161.01" fill="none" stroke="#111" stroke-width="1.2" stroke-linejoin="round"/>
<path d="M520.93,157.85 L527.84,139.87 L535.03,157.29 L541.94,150.93 L548.58,150.38 L555.77,170.57 L562.68,165.59 L569.60,171.12 L576.51,170.01 L583.42,169.46 L590.34,142.64 L597.25,157.29 L604.16,163.93 L611.08,147.34 L618.27,172.50" fill="none" stroke="#111" stroke-width="1.2" stroke-linejoin="round"/>
<path d="M621.79,165.87 L627.39,139.32" fill="none" stroke="#111" stroke-width="1.2" stroke-linejoin="round"/>
<path d="M627.39,139.32 L634.30,134.34 L641.22,156.19 L648.13,158.40 L654.77,155.36" fill="none" stroke="#111" stroke-width="1.2" stroke-linejoin="round"/>
<circle cx="385.31" cy="91.30" r="2.8" fill="#0a0a0a"/>
<circle cx="392.49" cy="82.78" r="2.8" fill="#0a0a0a"/>
<circle cx="399.44" cy="85.02" r="2.8" fill="#0a0a0a"/>
<circle cx="406.39" cy="83.90" r="2.8" fill="#0a0a0a"/>
<circle cx="413.57" cy="84.35" r="2.8" fill="#0a0a0a"/>
<circle cx="420.52" cy="80.99" r="2.8" fill="#0a0a0a"/>
<circle cx="427.47" cy="95.11" r="2.8" fill="#0a0a0a"/>
<circle cx="455.49" cy="99.15" r="2.8" fill="#0a0a0a"/>
<circle cx="462.67" cy="82.78" r="2.8" fill="#0a0a0a"/>
<circle cx="469.62" cy="95.56" r="2.8" fill="#0a0a0a"/>
<circle cx="476.57" cy="105.43" r="2.8" fill="#0a0a0a"/>
<circle cx="483.74" cy="91.30" r="2.8" fill="#0a0a0a"/>
<circle cx="490.70" cy="101.17" r="2.8" fill="#0a0a0a"/>
<circle cx="499.63" cy="155.36" r="2.8" fill="#0a0a0a"/>
<circle cx="505.99" cy="162.00" r="2.8" fill="#0a0a0a"/>
<circle cx="512.35" cy="168.91" r="2.8" fill="#0a0a0a"/>
<circle cx="520.93" cy="157.85" r="2.8" fill="#0a0a0a"/>
<circle cx="527.84" cy="139.87" r="2.8" fill="#0a0a0a"/>
<circle cx="535.03" cy="157.29" r="2.8" fill="#0a0a0a"/>
<circle cx="541.94" cy="150.93" r="2.8" fill="#0a0a0a"/>
<circle cx="548.58" cy="150.38" r="2.8" fill="#0a0a0a"/>
<circle cx="555.77" cy="170.57" r="2.8" fill="#0a0a0a"/>
<circle cx="562.68" cy="165.59" r="2.8" fill="#0a0a0a"/>
<circle cx="569.60" cy="171.12" r="2.8" fill="#0a0a0a"/>
<circle cx="576.51" cy="170.01" r="2.8" fill="#0a0a0a"/>
<circle cx="583.42" cy="169.46" r="2.8" fill="#0a0a0a"/>
<circle cx="590.34" cy="142.64" r="2.8" fill="#0a0a0a"/>
<circle cx="597.25" cy="157.29" r="2.8" fill="#0a0a0a"/>
<circle cx="604.16" cy="163.93" r="2.8" fill="#0a0a0a"/>
<circle cx="611.08" cy="147.34" r="2.8" fill="#0a0a0a"/>
<circle cx="618.27" cy="172.50" r="2.8" fill="#0a0a0a"/>
<circle cx="627.39" cy="139.32" r="2.8" fill="#0a0a0a"/>
<circle cx="634.30" cy="134.34" r="2.8" fill="#0a0a0a"/>
<circle cx="641.22" cy="156.19" r="2.8" fill="#0a0a0a"/>
<circle cx="648.13" cy="158.40" r="2.8" fill="#0a0a0a"/>
<circle cx="654.77" cy="155.36" r="2.8" fill="#0a0a0a"/>
<text x="346.60" y="10.60" transform="rotate(0.05 346.60 10.60)" font-size="10.1" text-anchor="start" font-weight="bold" >B</text>
<text x="657.00" y="11.20" transform="rotate(0.05 657.00 11.20)" font-size="10.65" text-anchor="end" font-weight="bold" >mf-CA3</text>
<circle cx="568.3" cy="21.6" r="2.6" fill="#0a0a0a"/>
<circle cx="568.3" cy="33.6" r="2.0" fill="#fff" stroke="#111" stroke-width="0.9"/>
<text x="573.10" y="25.00" transform="rotate(0.05 573.10 25.00)" font-size="9.9" text-anchor="start" font-weight="normal" >Vehicle</text>
<text x="573.10" y="37.00" transform="rotate(0.05 573.10 37.00)" font-size="9.9" text-anchor="start" font-weight="normal" >Anisomycin</text>
<text x="422.20" y="132.40" transform="rotate(0.05 422.20 132.40)" font-size="10.6" text-anchor="middle" font-weight="normal" >Injection</text>
<line x1="422.80" y1="121.50" x2="422.80" y2="105.00" stroke="#111" stroke-width="1.35" />
<path d="M420.60,107.20 L422.80,103.00 L425.00,107.20 Z" fill="#111"/>
<text x="496.50" y="57.50" transform="rotate(0.05 496.50 57.50)" font-size="10.6" text-anchor="middle" font-weight="normal" >LFS</text>
<line x1="497.30" y1="63.50" x2="497.30" y2="79.00" stroke="#111" stroke-width="1.35" />
<path d="M495.10,76.80 L497.30,81.00 L499.50,76.80 Z" fill="#111"/>
<line x1="44.20" y1="256.50" x2="44.20" y2="450.70" stroke="#111" stroke-width="1.45" />
<line x1="43.50" y1="450.00" x2="320.60" y2="450.00" stroke="#111" stroke-width="1.4" />
<line x1="41.00" y1="450.00" x2="44.20" y2="450.00" stroke="#111" stroke-width="1.15" />
<text x="37.90" y="453.60" transform="rotate(0.05 37.90 453.60)" font-size="10.15" text-anchor="end" font-weight="normal" >60</text>
<line x1="41.00" y1="430.71" x2="44.20" y2="430.71" stroke="#111" stroke-width="1.15" />
<text x="37.90" y="434.31" transform="rotate(0.05 37.90 434.31)" font-size="10.15" text-anchor="end" font-weight="normal" >80</text>
<line x1="41.00" y1="411.42" x2="44.20" y2="411.42" stroke="#111" stroke-width="1.15" />
<text x="37.90" y="415.02" transform="rotate(0.05 37.90 415.02)" font-size="10.15" text-anchor="end" font-weight="normal" >100</text>
<line x1="41.00" y1="392.13" x2="44.20" y2="392.13" stroke="#111" stroke-width="1.15" />
<text x="37.90" y="395.73" transform="rotate(0.05 37.90 395.73)" font-size="10.15" text-anchor="end" font-weight="normal" >120</text>
<line x1="41.00" y1="372.84" x2="44.20" y2="372.84" stroke="#111" stroke-width="1.15" />
<text x="37.90" y="376.44" transform="rotate(0.05 37.90 376.44)" font-size="10.15" text-anchor="end" font-weight="normal" >140</text>
<line x1="41.00" y1="353.55" x2="44.20" y2="353.55" stroke="#111" stroke-width="1.15" />
<text x="37.90" y="357.15" transform="rotate(0.05 37.90 357.15)" font-size="10.15" text-anchor="end" font-weight="normal" >160</text>
<line x1="41.00" y1="334.26" x2="44.20" y2="334.26" stroke="#111" stroke-width="1.15" />
<text x="37.90" y="337.86" transform="rotate(0.05 37.90 337.86)" font-size="10.15" text-anchor="end" font-weight="normal" >180</text>
<line x1="41.00" y1="314.97" x2="44.20" y2="314.97" stroke="#111" stroke-width="1.15" />
<text x="37.90" y="318.57" transform="rotate(0.05 37.90 318.57)" font-size="10.15" text-anchor="end" font-weight="normal" >200</text>
<line x1="41.00" y1="295.68" x2="44.20" y2="295.68" stroke="#111" stroke-width="1.15" />
<text x="37.90" y="299.28" transform="rotate(0.05 37.90 299.28)" font-size="10.15" text-anchor="end" font-weight="normal" >220</text>
<line x1="41.00" y1="276.39" x2="44.20" y2="276.39" stroke="#111" stroke-width="1.15" />
<text x="37.90" y="279.99" transform="rotate(0.05 37.90 279.99)" font-size="10.15" text-anchor="end" font-weight="normal" >240</text>
<line x1="41.00" y1="257.10" x2="44.20" y2="257.10" stroke="#111" stroke-width="1.15" />
<text x="37.90" y="260.70" transform="rotate(0.05 37.90 260.70)" font-size="10.15" text-anchor="end" font-weight="normal" >260</text>
<line x1="47.40" y1="450.00" x2="47.40" y2="452.80" stroke="#111" stroke-width="1.2" />
<line x1="54.57" y1="450.00" x2="54.57" y2="452.80" stroke="#111" stroke-width="1.2" />
<line x1="61.75" y1="450.00" x2="61.75" y2="452.80" stroke="#111" stroke-width="1.2" />
<line x1="68.48" y1="450.00" x2="68.48" y2="452.80" stroke="#111" stroke-width="1.2" />
<line x1="75.65" y1="450.00" x2="75.65" y2="452.80" stroke="#111" stroke-width="1.2" />
<line x1="82.60" y1="450.00" x2="82.60" y2="452.80" stroke="#111" stroke-width="1.2" />
<line x1="89.78" y1="450.00" x2="89.78" y2="452.80" stroke="#111" stroke-width="1.2" />
<line x1="96.73" y1="450.00" x2="96.73" y2="452.80" stroke="#111" stroke-width="1.2" />
<line x1="103.68" y1="450.00" x2="103.68" y2="452.80" stroke="#111" stroke-width="1.2" />
<line x1="110.63" y1="450.00" x2="110.63" y2="452.80" stroke="#111" stroke-width="1.2" />
<line x1="117.35" y1="450.00" x2="117.35" y2="452.80" stroke="#111" stroke-width="1.2" />
<line x1="124.53" y1="450.00" x2="124.53" y2="452.80" stroke="#111" stroke-width="1.2" />
<line x1="131.48" y1="450.00" x2="131.48" y2="452.80" stroke="#111" stroke-width="1.2" />
<line x1="138.65" y1="450.00" x2="138.65" y2="452.80" stroke="#111" stroke-width="1.2" />
<line x1="145.61" y1="450.00" x2="145.61" y2="452.80" stroke="#111" stroke-width="1.2" />
<line x1="152.56" y1="450.00" x2="152.56" y2="452.80" stroke="#111" stroke-width="1.2" />
<line x1="161.75" y1="450.00" x2="161.75" y2="452.80" stroke="#111" stroke-width="1.2" />
<line x1="168.03" y1="450.00" x2="168.03" y2="452.80" stroke="#111" stroke-width="1.2" />
<line x1="174.08" y1="450.00" x2="174.08" y2="452.80" stroke="#111" stroke-width="1.2" />
<line x1="182.83" y1="450.00" x2="182.83" y2="452.80" stroke="#111" stroke-width="1.2" />
<line x1="190.09" y1="450.00" x2="190.09" y2="452.80" stroke="#111" stroke-width="1.2" />
<line x1="197.26" y1="450.00" x2="197.26" y2="452.80" stroke="#111" stroke-width="1.2" />
<line x1="203.99" y1="450.00" x2="203.99" y2="452.80" stroke="#111" stroke-width="1.2" />
<line x1="210.94" y1="450.00" x2="210.94" y2="452.80" stroke="#111" stroke-width="1.2" />
<line x1="217.89" y1="450.00" x2="217.89" y2="452.80" stroke="#111" stroke-width="1.2" />
<line x1="224.84" y1="450.00" x2="224.84" y2="452.80" stroke="#111" stroke-width="1.2" />
<line x1="231.79" y1="450.00" x2="231.79" y2="452.80" stroke="#111" stroke-width="1.2" />
<line x1="238.74" y1="450.00" x2="238.74" y2="452.80" stroke="#111" stroke-width="1.2" />
<line x1="245.70" y1="450.00" x2="245.70" y2="452.80" stroke="#111" stroke-width="1.2" />
<line x1="252.42" y1="450.00" x2="252.42" y2="452.80" stroke="#111" stroke-width="1.2" />
<line x1="259.37" y1="450.00" x2="259.37" y2="452.80" stroke="#111" stroke-width="1.2" />
<line x1="266.32" y1="450.00" x2="266.32" y2="452.80" stroke="#111" stroke-width="1.2" />
<line x1="273.27" y1="450.00" x2="273.27" y2="452.80" stroke="#111" stroke-width="1.2" />
<line x1="280.22" y1="450.00" x2="280.22" y2="452.80" stroke="#111" stroke-width="1.2" />
<line x1="289.42" y1="450.00" x2="289.42" y2="452.80" stroke="#111" stroke-width="1.2" />
<line x1="296.37" y1="450.00" x2="296.37" y2="452.80" stroke="#111" stroke-width="1.2" />
<line x1="303.09" y1="450.00" x2="303.09" y2="452.80" stroke="#111" stroke-width="1.2" />
<line x1="310.27" y1="450.00" x2="310.27" y2="452.80" stroke="#111" stroke-width="1.2" />
<line x1="317.00" y1="450.00" x2="317.00" y2="452.80" stroke="#111" stroke-width="1.2" />
<rect x="156.50" y="448.0" width="1.4" height="4" fill="#fff"/>
<line x1="155.95" y1="446.90" x2="155.95" y2="453.20" stroke="#111" stroke-width="1.2" />
<line x1="158.45" y1="446.90" x2="158.45" y2="453.20" stroke="#111" stroke-width="1.2" />
<rect x="177.80" y="448.0" width="1.4" height="4" fill="#fff"/>
<line x1="177.25" y1="446.90" x2="177.25" y2="453.20" stroke="#111" stroke-width="1.2" />
<line x1="179.75" y1="446.90" x2="179.75" y2="453.20" stroke="#111" stroke-width="1.2" />
<rect x="283.90" y="448.0" width="1.4" height="4" fill="#fff"/>
<line x1="283.35" y1="446.90" x2="283.35" y2="453.20" stroke="#111" stroke-width="1.2" />
<line x1="285.85" y1="446.90" x2="285.85" y2="453.20" stroke="#111" stroke-width="1.2" />
<text x="47.00" y="465.80" transform="rotate(0.05 47.00 465.80)" font-size="10.0" text-anchor="middle" font-weight="normal" >-150</text>
<text x="75.30" y="465.80" transform="rotate(0.05 75.30 465.80)" font-size="10.0" text-anchor="middle" font-weight="normal" >-130</text>
<text x="117.40" y="465.80" transform="rotate(0.05 117.40 465.80)" font-size="10.0" text-anchor="middle" font-weight="normal" >-80</text>
<text x="145.80" y="465.80" transform="rotate(0.05 145.80 465.80)" font-size="10.0" text-anchor="middle" font-weight="normal" >-20</text>
<text x="183.20" y="465.80" transform="rotate(0.05 183.20 465.80)" font-size="10.0" text-anchor="middle" font-weight="normal" >30</text>
<text x="224.80" y="465.80" transform="rotate(0.05 224.80 465.80)" font-size="10.0" text-anchor="middle" font-weight="normal" >120</text>
<text x="252.60" y="465.80" transform="rotate(0.05 252.60 465.80)" font-size="10.0" text-anchor="middle" font-weight="normal" >180</text>
<text x="290.00" y="465.80" transform="rotate(0.05 290.00 465.80)" font-size="10.0" text-anchor="middle" font-weight="normal" >1440</text>
<text x="317.00" y="465.80" transform="rotate(0.05 317.00 465.80)" font-size="10.0" text-anchor="middle" font-weight="normal" >1500</text>
<text x="166.50" y="481.30" transform="rotate(0.05 166.50 481.30)" font-size="10.15" text-anchor="middle" font-weight="normal" >Time (min)</text>
<text transform="translate(15.4,360.3) rotate(-89.97)" font-size="10.1" text-anchor="middle">fEPSP slope (% baseline)</text>
<line x1="47.40" y1="412.42" x2="47.40" y2="416.01" stroke="#404040" stroke-width="1.25" />
<line x1="54.57" y1="405.02" x2="54.57" y2="408.61" stroke="#404040" stroke-width="1.25" />
<line x1="61.75" y1="412.20" x2="61.75" y2="415.78" stroke="#404040" stroke-width="1.25" />
<line x1="68.48" y1="409.51" x2="68.48" y2="412.20" stroke="#404040" stroke-width="1.25" />
<line x1="75.65" y1="409.96" x2="75.65" y2="412.65" stroke="#404040" stroke-width="1.25" />
<line x1="82.60" y1="409.28" x2="82.60" y2="411.97" stroke="#404040" stroke-width="1.25" />
<line x1="89.78" y1="406.59" x2="89.78" y2="410.18" stroke="#404040" stroke-width="1.25" />
<line x1="96.73" y1="409.51" x2="96.73" y2="412.20" stroke="#404040" stroke-width="1.25" />
<line x1="103.68" y1="405.47" x2="103.68" y2="409.06" stroke="#404040" stroke-width="1.25" />
<line x1="110.63" y1="403.90" x2="110.63" y2="408.39" stroke="#404040" stroke-width="1.25" />
<line x1="117.35" y1="410.40" x2="117.35" y2="413.99" stroke="#404040" stroke-width="1.25" />
<line x1="124.53" y1="405.02" x2="124.53" y2="410.40" stroke="#404040" stroke-width="1.25" />
<line x1="131.48" y1="403.00" x2="131.48" y2="408.39" stroke="#404040" stroke-width="1.25" />
<line x1="138.65" y1="402.33" x2="138.65" y2="407.71" stroke="#404040" stroke-width="1.25" />
<line x1="145.61" y1="406.37" x2="145.61" y2="411.75" stroke="#404040" stroke-width="1.25" />
<line x1="152.56" y1="403.45" x2="152.56" y2="409.73" stroke="#404040" stroke-width="1.25" />
<line x1="161.75" y1="359.73" x2="161.75" y2="389.78" stroke="#404040" stroke-width="1.25" />
<line x1="168.03" y1="354.57" x2="168.03" y2="384.62" stroke="#404040" stroke-width="1.25" />
<line x1="174.08" y1="358.16" x2="174.08" y2="379.24" stroke="#404040" stroke-width="1.25" />
<line x1="182.83" y1="349.64" x2="182.83" y2="376.55" stroke="#404040" stroke-width="1.25" />
<line x1="190.09" y1="361.52" x2="190.09" y2="380.36" stroke="#404040" stroke-width="1.25" />
<line x1="197.26" y1="365.34" x2="197.26" y2="385.52" stroke="#404040" stroke-width="1.25" />
<line x1="203.99" y1="371.84" x2="203.99" y2="387.98" stroke="#404040" stroke-width="1.25" />
<line x1="210.94" y1="370.49" x2="210.94" y2="389.33" stroke="#404040" stroke-width="1.25" />
<line x1="217.89" y1="374.08" x2="217.89" y2="387.98" stroke="#404040" stroke-width="1.25" />
<line x1="224.84" y1="364.66" x2="224.84" y2="381.26" stroke="#404040" stroke-width="1.25" />
<line x1="231.79" y1="372.74" x2="231.79" y2="384.84" stroke="#404040" stroke-width="1.25" />
<line x1="238.74" y1="368.25" x2="238.74" y2="378.12" stroke="#404040" stroke-width="1.25" />
<line x1="245.70" y1="370.04" x2="245.70" y2="386.19" stroke="#404040" stroke-width="1.25" />
<line x1="252.42" y1="373.63" x2="252.42" y2="384.84" stroke="#404040" stroke-width="1.25" />
<line x1="259.37" y1="369.15" x2="259.37" y2="378.12" stroke="#404040" stroke-width="1.25" />
<line x1="266.32" y1="358.16" x2="266.32" y2="374.75" stroke="#404040" stroke-width="1.25" />
<line x1="273.27" y1="366.01" x2="273.27" y2="379.91" stroke="#404040" stroke-width="1.25" />
<line x1="280.22" y1="369.15" x2="280.22" y2="378.12" stroke="#404040" stroke-width="1.25" />
<line x1="289.42" y1="386.86" x2="289.42" y2="390.45" stroke="#404040" stroke-width="1.25" />
<line x1="296.37" y1="385.96" x2="296.37" y2="389.55" stroke="#404040" stroke-width="1.25" />
<line x1="303.09" y1="389.78" x2="303.09" y2="393.36" stroke="#404040" stroke-width="1.25" />
<line x1="310.27" y1="383.72" x2="310.27" y2="387.31" stroke="#404040" stroke-width="1.25" />
<line x1="317.00" y1="381.26" x2="317.00" y2="384.84" stroke="#404040" stroke-width="1.25" />
<line x1="47.40" y1="409.96" x2="47.40" y2="413.54" stroke="#404040" stroke-width="1.25" />
<line x1="54.57" y1="411.30" x2="54.57" y2="414.89" stroke="#404040" stroke-width="1.25" />
<line x1="61.75" y1="407.49" x2="61.75" y2="411.08" stroke="#404040" stroke-width="1.25" />
<line x1="68.48" y1="409.51" x2="68.48" y2="412.20" stroke="#404040" stroke-width="1.25" />
<line x1="75.65" y1="409.96" x2="75.65" y2="412.65" stroke="#404040" stroke-width="1.25" />
<line x1="82.60" y1="411.97" x2="82.60" y2="415.56" stroke="#404040" stroke-width="1.25" />
<line x1="89.78" y1="412.20" x2="89.78" y2="415.78" stroke="#404040" stroke-width="1.25" />
<line x1="96.73" y1="409.51" x2="96.73" y2="412.20" stroke="#404040" stroke-width="1.25" />
<line x1="103.68" y1="407.94" x2="103.68" y2="411.52" stroke="#404040" stroke-width="1.25" />
<line x1="110.63" y1="413.99" x2="110.63" y2="418.48" stroke="#404040" stroke-width="1.25" />
<line x1="117.35" y1="409.51" x2="117.35" y2="414.89" stroke="#404040" stroke-width="1.25" />
<line x1="124.53" y1="411.52" x2="124.53" y2="416.91" stroke="#404040" stroke-width="1.25" />
<line x1="131.48" y1="409.51" x2="131.48" y2="414.89" stroke="#404040" stroke-width="1.25" />
<line x1="138.65" y1="409.06" x2="138.65" y2="413.54" stroke="#404040" stroke-width="1.25" />
<line x1="145.61" y1="413.09" x2="145.61" y2="418.48" stroke="#404040" stroke-width="1.25" />
<line x1="152.56" y1="417.35" x2="152.56" y2="421.84" stroke="#404040" stroke-width="1.25" />
<line x1="161.75" y1="368.25" x2="161.75" y2="410.40" stroke="#404040" stroke-width="1.25" />
<line x1="168.03" y1="370.94" x2="168.03" y2="400.99" stroke="#404040" stroke-width="1.25" />
<line x1="174.08" y1="375.20" x2="174.08" y2="409.28" stroke="#404040" stroke-width="1.25" />
<line x1="182.83" y1="385.52" x2="182.83" y2="404.35" stroke="#404040" stroke-width="1.25" />
<line x1="190.09" y1="385.07" x2="190.09" y2="401.21" stroke="#404040" stroke-width="1.25" />
<line x1="197.26" y1="387.09" x2="197.26" y2="414.89" stroke="#404040" stroke-width="1.25" />
<line x1="203.99" y1="379.91" x2="203.99" y2="393.36" stroke="#404040" stroke-width="1.25" />
<line x1="210.94" y1="385.52" x2="210.94" y2="397.62" stroke="#404040" stroke-width="1.25" />
<line x1="217.89" y1="397.17" x2="217.89" y2="418.25" stroke="#404040" stroke-width="1.25" />
<line x1="224.84" y1="394.04" x2="224.84" y2="403.90" stroke="#404040" stroke-width="1.25" />
<line x1="231.79" y1="396.05" x2="231.79" y2="402.78" stroke="#404040" stroke-width="1.25" />
<line x1="238.74" y1="400.09" x2="238.74" y2="419.82" stroke="#404040" stroke-width="1.25" />
<line x1="245.70" y1="397.17" x2="245.70" y2="412.87" stroke="#404040" stroke-width="1.25" />
<line x1="252.42" y1="398.30" x2="252.42" y2="427.44" stroke="#404040" stroke-width="1.25" />
<line x1="259.37" y1="398.52" x2="259.37" y2="427.67" stroke="#404040" stroke-width="1.25" />
<line x1="266.32" y1="406.14" x2="266.32" y2="430.81" stroke="#404040" stroke-width="1.25" />
<line x1="273.27" y1="403.00" x2="273.27" y2="429.91" stroke="#404040" stroke-width="1.25" />
<line x1="280.22" y1="403.23" x2="280.22" y2="427.89" stroke="#404040" stroke-width="1.25" />
<line x1="289.42" y1="409.96" x2="289.42" y2="435.96" stroke="#404040" stroke-width="1.25" />
<line x1="296.37" y1="408.39" x2="296.37" y2="434.39" stroke="#404040" stroke-width="1.25" />
<line x1="303.09" y1="411.08" x2="303.09" y2="434.84" stroke="#404040" stroke-width="1.25" />
<line x1="310.27" y1="405.25" x2="310.27" y2="432.60" stroke="#404040" stroke-width="1.25" />
<line x1="317.00" y1="406.37" x2="317.00" y2="433.27" stroke="#404040" stroke-width="1.25" />
<path d="M47.40,414.22 L54.57,406.82 L61.75,413.99 L68.48,410.85 L75.65,411.30 L82.60,410.63 L89.78,408.39 L96.73,410.85 L103.68,407.26 L110.63,406.14 L117.35,412.20 L124.53,407.71 L131.48,405.70 L138.65,405.02 L145.61,409.06 L152.56,406.59" fill="none" stroke="#111" stroke-width="1.2" stroke-linejoin="round"/>
<path d="M152.56,406.59 L155.86,391.58" fill="none" stroke="#111" stroke-width="1.2" stroke-linejoin="round"/>
<path d="M158.25,390.67 L161.75,374.75" fill="none" stroke="#111" stroke-width="1.2" stroke-linejoin="round"/>
<path d="M161.75,374.75 L168.03,369.60 L174.08,368.70" fill="none" stroke="#111" stroke-width="1.2" stroke-linejoin="round"/>
<path d="M174.08,368.70 L179.08,364.70" fill="none" stroke="#111" stroke-width="1.2" stroke-linejoin="round"/>
<path d="M182.83,363.09 L190.09,370.94 L197.26,375.43 L203.99,379.91 L210.94,379.91 L217.89,381.03 L224.84,372.96 L231.79,378.79 L238.74,373.18 L245.70,378.12 L252.42,379.24 L259.37,373.63 L266.32,366.46 L273.27,372.96 L280.22,373.63" fill="none" stroke="#111" stroke-width="1.2" stroke-linejoin="round"/>
<path d="M280.22,373.63 L284.92,383.72" fill="none" stroke="#111" stroke-width="1.2" stroke-linejoin="round"/>
<path d="M289.42,388.65 L296.37,387.76 L303.09,391.57 L310.27,385.52 L317.00,383.05" fill="none" stroke="#111" stroke-width="1.2" stroke-linejoin="round"/>
<circle cx="47.40" cy="414.22" r="2.8" fill="#0a0a0a"/>
<circle cx="54.57" cy="406.82" r="2.8" fill="#0a0a0a"/>
<circle cx="61.75" cy="413.99" r="2.8" fill="#0a0a0a"/>
<circle cx="68.48" cy="410.85" r="2.8" fill="#0a0a0a"/>
<circle cx="75.65" cy="411.30" r="2.8" fill="#0a0a0a"/>
<circle cx="82.60" cy="410.63" r="2.8" fill="#0a0a0a"/>
<circle cx="89.78" cy="408.39" r="2.8" fill="#0a0a0a"/>
<circle cx="96.73" cy="410.85" r="2.8" fill="#0a0a0a"/>
<circle cx="103.68" cy="407.26" r="2.8" fill="#0a0a0a"/>
<circle cx="110.63" cy="406.14" r="2.8" fill="#0a0a0a"/>
<circle cx="117.35" cy="412.20" r="2.8" fill="#0a0a0a"/>
<circle cx="124.53" cy="407.71" r="2.8" fill="#0a0a0a"/>
<circle cx="131.48" cy="405.70" r="2.8" fill="#0a0a0a"/>
<circle cx="138.65" cy="405.02" r="2.8" fill="#0a0a0a"/>
<circle cx="145.61" cy="409.06" r="2.8" fill="#0a0a0a"/>
<circle cx="152.56" cy="406.59" r="2.8" fill="#0a0a0a"/>
<circle cx="161.75" cy="374.75" r="2.8" fill="#0a0a0a"/>
<circle cx="168.03" cy="369.60" r="2.8" fill="#0a0a0a"/>
<circle cx="174.08" cy="368.70" r="2.8" fill="#0a0a0a"/>
<circle cx="182.83" cy="363.09" r="2.8" fill="#0a0a0a"/>
<circle cx="190.09" cy="370.94" r="2.8" fill="#0a0a0a"/>
<circle cx="197.26" cy="375.43" r="2.8" fill="#0a0a0a"/>
<circle cx="203.99" cy="379.91" r="2.8" fill="#0a0a0a"/>
<circle cx="210.94" cy="379.91" r="2.8" fill="#0a0a0a"/>
<circle cx="217.89" cy="381.03" r="2.8" fill="#0a0a0a"/>
<circle cx="224.84" cy="372.96" r="2.8" fill="#0a0a0a"/>
<circle cx="231.79" cy="378.79" r="2.8" fill="#0a0a0a"/>
<circle cx="238.74" cy="373.18" r="2.8" fill="#0a0a0a"/>
<circle cx="245.70" cy="378.12" r="2.8" fill="#0a0a0a"/>
<circle cx="252.42" cy="379.24" r="2.8" fill="#0a0a0a"/>
<circle cx="259.37" cy="373.63" r="2.8" fill="#0a0a0a"/>
<circle cx="266.32" cy="366.46" r="2.8" fill="#0a0a0a"/>
<circle cx="273.27" cy="372.96" r="2.8" fill="#0a0a0a"/>
<circle cx="280.22" cy="373.63" r="2.8" fill="#0a0a0a"/>
<circle cx="289.42" cy="388.65" r="2.8" fill="#0a0a0a"/>
<circle cx="296.37" cy="387.76" r="2.8" fill="#0a0a0a"/>
<circle cx="303.09" cy="391.57" r="2.8" fill="#0a0a0a"/>
<circle cx="310.27" cy="385.52" r="2.8" fill="#0a0a0a"/>
<circle cx="317.00" cy="383.05" r="2.8" fill="#0a0a0a"/>
<path d="M47.40,411.75 L54.57,413.09 L61.75,409.28 L68.48,410.85 L75.65,411.30 L82.60,413.77 L89.78,413.99 L96.73,410.85 L103.68,409.73 L110.63,416.23 L117.35,412.20 L124.53,414.22 L131.48,412.20 L138.65,411.30 L145.61,415.78 L152.56,419.60" fill="none" stroke="#111" stroke-width="1.2" stroke-linejoin="round"/>
<path d="M152.56,419.60 L155.86,405.33" fill="none" stroke="#111" stroke-width="1.2" stroke-linejoin="round"/>
<path d="M158.25,404.46 L161.75,389.33" fill="none" stroke="#111" stroke-width="1.2" stroke-linejoin="round"/>
<path d="M161.75,389.33 L168.03,385.96 L174.08,392.24" fill="none" stroke="#111" stroke-width="1.2" stroke-linejoin="round"/>
<path d="M174.08,392.24 L179.08,394.16" fill="none" stroke="#111" stroke-width="1.2" stroke-linejoin="round"/>
<path d="M182.83,394.93 L190.09,393.14 L197.26,400.99 L203.99,386.64 L210.94,391.57 L217.89,407.71 L224.84,398.97 L231.79,399.42 L238.74,409.96 L245.70,405.02 L252.42,412.87 L259.37,413.09 L266.32,418.48 L273.27,416.46 L280.22,415.56" fill="none" stroke="#111" stroke-width="1.2" stroke-linejoin="round"/>
<path d="M280.22,415.56 L284.92,420.53" fill="none" stroke="#111" stroke-width="1.2" stroke-linejoin="round"/>
<path d="M289.42,422.96 L296.37,421.39 L303.09,422.96 L310.27,418.92 L317.00,419.82" fill="none" stroke="#111" stroke-width="1.2" stroke-linejoin="round"/>
<circle cx="47.40" cy="411.75" r="2.35" fill="#fff" stroke="#111" stroke-width="0.95"/>
<circle cx="54.57" cy="413.09" r="2.35" fill="#fff" stroke="#111" stroke-width="0.95"/>
<circle cx="61.75" cy="409.28" r="2.35" fill="#fff" stroke="#111" stroke-width="0.95"/>
<circle cx="68.48" cy="410.85" r="2.35" fill="#fff" stroke="#111" stroke-width="0.95"/>
<circle cx="75.65" cy="411.30" r="2.35" fill="#fff" stroke="#111" stroke-width="0.95"/>
<circle cx="82.60" cy="413.77" r="2.35" fill="#fff" stroke="#111" stroke-width="0.95"/>
<circle cx="89.78" cy="413.99" r="2.35" fill="#fff" stroke="#111" stroke-width="0.95"/>
<circle cx="96.73" cy="410.85" r="2.35" fill="#fff" stroke="#111" stroke-width="0.95"/>
<circle cx="103.68" cy="409.73" r="2.35" fill="#fff" stroke="#111" stroke-width="0.95"/>
<circle cx="110.63" cy="416.23" r="2.35" fill="#fff" stroke="#111" stroke-width="0.95"/>
<circle cx="117.35" cy="412.20" r="2.35" fill="#fff" stroke="#111" stroke-width="0.95"/>
<circle cx="124.53" cy="414.22" r="2.35" fill="#fff" stroke="#111" stroke-width="0.95"/>
<circle cx="131.48" cy="412.20" r="2.35" fill="#fff" stroke="#111" stroke-width="0.95"/>
<circle cx="138.65" cy="411.30" r="2.35" fill="#fff" stroke="#111" stroke-width="0.95"/>
<circle cx="145.61" cy="415.78" r="2.35" fill="#fff" stroke="#111" stroke-width="0.95"/>
<circle cx="152.56" cy="419.60" r="2.35" fill="#fff" stroke="#111" stroke-width="0.95"/>
<circle cx="161.75" cy="389.33" r="2.35" fill="#fff" stroke="#111" stroke-width="0.95"/>
<circle cx="168.03" cy="385.96" r="2.35" fill="#fff" stroke="#111" stroke-width="0.95"/>
<circle cx="174.08" cy="392.24" r="2.35" fill="#fff" stroke="#111" stroke-width="0.95"/>
<circle cx="182.83" cy="394.93" r="2.35" fill="#fff" stroke="#111" stroke-width="0.95"/>
<circle cx="190.09" cy="393.14" r="2.35" fill="#fff" stroke="#111" stroke-width="0.95"/>
<circle cx="197.26" cy="400.99" r="2.35" fill="#fff" stroke="#111" stroke-width="0.95"/>
<circle cx="203.99" cy="386.64" r="2.35" fill="#fff" stroke="#111" stroke-width="0.95"/>
<circle cx="210.94" cy="391.57" r="2.35" fill="#fff" stroke="#111" stroke-width="0.95"/>
<circle cx="217.89" cy="407.71" r="2.35" fill="#fff" stroke="#111" stroke-width="0.95"/>
<circle cx="224.84" cy="398.97" r="2.35" fill="#fff" stroke="#111" stroke-width="0.95"/>
<circle cx="231.79" cy="399.42" r="2.35" fill="#fff" stroke="#111" stroke-width="0.95"/>
<circle cx="238.74" cy="409.96" r="2.35" fill="#fff" stroke="#111" stroke-width="0.95"/>
<circle cx="245.70" cy="405.02" r="2.35" fill="#fff" stroke="#111" stroke-width="0.95"/>
<circle cx="252.42" cy="412.87" r="2.35" fill="#fff" stroke="#111" stroke-width="0.95"/>
<circle cx="259.37" cy="413.09" r="2.35" fill="#fff" stroke="#111" stroke-width="0.95"/>
<circle cx="266.32" cy="418.48" r="2.35" fill="#fff" stroke="#111" stroke-width="0.95"/>
<circle cx="273.27" cy="416.46" r="2.35" fill="#fff" stroke="#111" stroke-width="0.95"/>
<circle cx="280.22" cy="415.56" r="2.35" fill="#fff" stroke="#111" stroke-width="0.95"/>
<circle cx="289.42" cy="422.96" r="2.35" fill="#fff" stroke="#111" stroke-width="0.95"/>
<circle cx="296.37" cy="421.39" r="2.35" fill="#fff" stroke="#111" stroke-width="0.95"/>
<circle cx="303.09" cy="422.96" r="2.35" fill="#fff" stroke="#111" stroke-width="0.95"/>
<circle cx="310.27" cy="418.92" r="2.35" fill="#fff" stroke="#111" stroke-width="0.95"/>
<circle cx="317.00" cy="419.82" r="2.35" fill="#fff" stroke="#111" stroke-width="0.95"/>
<text x="7.80" y="247.80" transform="rotate(0.05 7.80 247.80)" font-size="10.1" text-anchor="start" font-weight="bold" >C</text>
<circle cx="271.5" cy="270.9" r="2.6" fill="#0a0a0a"/>
<circle cx="271.5" cy="282.2" r="2.0" fill="#fff" stroke="#111" stroke-width="0.9"/>
<text x="276.00" y="274.50" transform="rotate(0.05 276.00 274.50)" font-size="9.9" text-anchor="start" font-weight="normal" >Vehicle</text>
<text x="276.00" y="285.90" transform="rotate(0.05 276.00 285.90)" font-size="9.9" text-anchor="start" font-weight="normal" >Emetine</text>
<text x="83.50" y="372.00" transform="rotate(0.05 83.50 372.00)" font-size="10.6" text-anchor="middle" font-weight="normal" >Injection</text>
<line x1="83.60" y1="377.80" x2="83.60" y2="394.30" stroke="#111" stroke-width="1.35" />
<path d="M81.40,392.10 L83.60,396.30 L85.80,392.10 Z" fill="#111"/>
<text x="154.10" y="335.00" transform="rotate(0.05 154.10 335.00)" font-size="10.6" text-anchor="middle" font-weight="normal" >HFS</text>
<line x1="153.70" y1="340.30" x2="153.70" y2="356.60" stroke="#111" stroke-width="1.35" />
<path d="M151.50,354.40 L153.70,358.60 L155.90,354.40 Z" fill="#111"/>
<line x1="382.00" y1="256.80" x2="382.00" y2="451.50" stroke="#111" stroke-width="1.45" />
<line x1="381.30" y1="450.80" x2="659.00" y2="450.80" stroke="#111" stroke-width="1.4" />
<line x1="378.80" y1="450.80" x2="382.00" y2="450.80" stroke="#111" stroke-width="1.15" />
<text x="375.70" y="454.40" transform="rotate(0.05 375.70 454.40)" font-size="10.15" text-anchor="end" font-weight="normal" >40</text>
<line x1="378.80" y1="412.12" x2="382.00" y2="412.12" stroke="#111" stroke-width="1.15" />
<text x="375.70" y="415.72" transform="rotate(0.05 375.70 415.72)" font-size="10.15" text-anchor="end" font-weight="normal" >60</text>
<line x1="378.80" y1="373.44" x2="382.00" y2="373.44" stroke="#111" stroke-width="1.15" />
<text x="375.70" y="377.04" transform="rotate(0.05 375.70 377.04)" font-size="10.15" text-anchor="end" font-weight="normal" >80</text>
<line x1="378.80" y1="334.76" x2="382.00" y2="334.76" stroke="#111" stroke-width="1.15" />
<text x="375.70" y="338.36" transform="rotate(0.05 375.70 338.36)" font-size="10.15" text-anchor="end" font-weight="normal" >100</text>
<line x1="378.80" y1="296.08" x2="382.00" y2="296.08" stroke="#111" stroke-width="1.15" />
<text x="375.70" y="299.68" transform="rotate(0.05 375.70 299.68)" font-size="10.15" text-anchor="end" font-weight="normal" >120</text>
<line x1="378.80" y1="257.40" x2="382.00" y2="257.40" stroke="#111" stroke-width="1.15" />
<text x="375.70" y="261.00" transform="rotate(0.05 375.70 261.00)" font-size="10.15" text-anchor="end" font-weight="normal" >140</text>
<line x1="385.31" y1="450.80" x2="385.31" y2="453.60" stroke="#111" stroke-width="1.2" />
<line x1="392.49" y1="450.80" x2="392.49" y2="453.60" stroke="#111" stroke-width="1.2" />
<line x1="399.44" y1="450.80" x2="399.44" y2="453.60" stroke="#111" stroke-width="1.2" />
<line x1="406.39" y1="450.80" x2="406.39" y2="453.60" stroke="#111" stroke-width="1.2" />
<line x1="413.57" y1="450.80" x2="413.57" y2="453.60" stroke="#111" stroke-width="1.2" />
<line x1="420.52" y1="450.80" x2="420.52" y2="453.60" stroke="#111" stroke-width="1.2" />
<line x1="427.47" y1="450.80" x2="427.47" y2="453.60" stroke="#111" stroke-width="1.2" />
<line x1="434.42" y1="450.80" x2="434.42" y2="453.60" stroke="#111" stroke-width="1.2" />
<line x1="441.37" y1="450.80" x2="441.37" y2="453.60" stroke="#111" stroke-width="1.2" />
<line x1="448.32" y1="450.80" x2="448.32" y2="453.60" stroke="#111" stroke-width="1.2" />
<line x1="455.49" y1="450.80" x2="455.49" y2="453.60" stroke="#111" stroke-width="1.2" />
<line x1="462.67" y1="450.80" x2="462.67" y2="453.60" stroke="#111" stroke-width="1.2" />
<line x1="469.62" y1="450.80" x2="469.62" y2="453.60" stroke="#111" stroke-width="1.2" />
<line x1="476.57" y1="450.80" x2="476.57" y2="453.60" stroke="#111" stroke-width="1.2" />
<line x1="483.74" y1="450.80" x2="483.74" y2="453.60" stroke="#111" stroke-width="1.2" />
<line x1="490.70" y1="450.80" x2="490.70" y2="453.60" stroke="#111" stroke-width="1.2" />
<line x1="499.75" y1="450.80" x2="499.75" y2="453.60" stroke="#111" stroke-width="1.2" />
<line x1="506.15" y1="450.80" x2="506.15" y2="453.60" stroke="#111" stroke-width="1.2" />
<line x1="512.55" y1="450.80" x2="512.55" y2="453.60" stroke="#111" stroke-width="1.2" />
<line x1="521.17" y1="450.80" x2="521.17" y2="453.60" stroke="#111" stroke-width="1.2" />
<line x1="528.13" y1="450.80" x2="528.13" y2="453.60" stroke="#111" stroke-width="1.2" />
<line x1="535.32" y1="450.80" x2="535.32" y2="453.60" stroke="#111" stroke-width="1.2" />
<line x1="542.21" y1="450.80" x2="542.21" y2="453.60" stroke="#111" stroke-width="1.2" />
<line x1="548.84" y1="450.80" x2="548.84" y2="453.60" stroke="#111" stroke-width="1.2" />
<line x1="556.01" y1="450.80" x2="556.01" y2="453.60" stroke="#111" stroke-width="1.2" />
<line x1="562.91" y1="450.80" x2="562.91" y2="453.60" stroke="#111" stroke-width="1.2" />
<line x1="569.81" y1="450.80" x2="569.81" y2="453.60" stroke="#111" stroke-width="1.2" />
<line x1="576.70" y1="450.80" x2="576.70" y2="453.60" stroke="#111" stroke-width="1.2" />
<line x1="583.60" y1="450.80" x2="583.60" y2="453.60" stroke="#111" stroke-width="1.2" />
<line x1="590.50" y1="450.80" x2="590.50" y2="453.60" stroke="#111" stroke-width="1.2" />
<line x1="597.40" y1="450.80" x2="597.40" y2="453.60" stroke="#111" stroke-width="1.2" />
<line x1="604.30" y1="450.80" x2="604.30" y2="453.60" stroke="#111" stroke-width="1.2" />
<line x1="611.19" y1="450.80" x2="611.19" y2="453.60" stroke="#111" stroke-width="1.2" />
<line x1="618.37" y1="450.80" x2="618.37" y2="453.60" stroke="#111" stroke-width="1.2" />
<line x1="627.47" y1="450.80" x2="627.47" y2="453.60" stroke="#111" stroke-width="1.2" />
<line x1="634.37" y1="450.80" x2="634.37" y2="453.60" stroke="#111" stroke-width="1.2" />
<line x1="641.27" y1="450.80" x2="641.27" y2="453.60" stroke="#111" stroke-width="1.2" />
<line x1="648.17" y1="450.80" x2="648.17" y2="453.60" stroke="#111" stroke-width="1.2" />
<line x1="654.79" y1="450.80" x2="654.79" y2="453.60" stroke="#111" stroke-width="1.2" />
<rect x="494.00" y="448.8" width="1.4" height="4" fill="#fff"/>
<line x1="493.45" y1="447.70" x2="493.45" y2="454.00" stroke="#111" stroke-width="1.2" />
<line x1="495.95" y1="447.70" x2="495.95" y2="454.00" stroke="#111" stroke-width="1.2" />
<rect x="515.00" y="448.8" width="1.4" height="4" fill="#fff"/>
<line x1="514.45" y1="447.70" x2="514.45" y2="454.00" stroke="#111" stroke-width="1.2" />
<line x1="516.95" y1="447.70" x2="516.95" y2="454.00" stroke="#111" stroke-width="1.2" />
<rect x="622.00" y="448.8" width="1.4" height="4" fill="#fff"/>
<line x1="621.45" y1="447.70" x2="621.45" y2="454.00" stroke="#111" stroke-width="1.2" />
<line x1="623.95" y1="447.70" x2="623.95" y2="454.00" stroke="#111" stroke-width="1.2" />
<text x="385.60" y="465.80" transform="rotate(0.05 385.60 465.80)" font-size="10.0" text-anchor="middle" font-weight="normal" >-150</text>
<text x="413.40" y="465.80" transform="rotate(0.05 413.40 465.80)" font-size="10.0" text-anchor="middle" font-weight="normal" >-130</text>
<text x="455.80" y="465.80" transform="rotate(0.05 455.80 465.80)" font-size="10.0" text-anchor="middle" font-weight="normal" >-80</text>
<text x="483.80" y="465.80" transform="rotate(0.05 483.80 465.80)" font-size="10.0" text-anchor="middle" font-weight="normal" >-20</text>
<text x="520.80" y="465.80" transform="rotate(0.05 520.80 465.80)" font-size="10.0" text-anchor="middle" font-weight="normal" >30</text>
<text x="562.70" y="465.80" transform="rotate(0.05 562.70 465.80)" font-size="10.0" text-anchor="middle" font-weight="normal" >120</text>
<text x="590.50" y="465.80" transform="rotate(0.05 590.50 465.80)" font-size="10.0" text-anchor="middle" font-weight="normal" >180</text>
<text x="627.60" y="465.80" transform="rotate(0.05 627.60 465.80)" font-size="10.0" text-anchor="middle" font-weight="normal" >1440</text>
<text x="655.30" y="465.80" transform="rotate(0.05 655.30 465.80)" font-size="10.0" text-anchor="middle" font-weight="normal" >1500</text>
<text x="504.40" y="481.30" transform="rotate(0.05 504.40 481.30)" font-size="10.15" text-anchor="middle" font-weight="normal" >Time (min)</text>
<text transform="translate(352.6,360.3) rotate(-89.97)" font-size="10.1" text-anchor="middle">fEPSP slope (% baseline)</text>
<line x1="385.31" y1="310.67" x2="385.31" y2="384.22" stroke="#404040" stroke-width="1.25" />
<line x1="392.49" y1="311.79" x2="392.49" y2="385.34" stroke="#404040" stroke-width="1.25" />
<line x1="399.44" y1="303.95" x2="399.44" y2="338.48" stroke="#404040" stroke-width="1.25" />
<line x1="406.39" y1="316.50" x2="406.39" y2="340.72" stroke="#404040" stroke-width="1.25" />
<line x1="413.57" y1="296.10" x2="413.57" y2="350.81" stroke="#404040" stroke-width="1.25" />
<line x1="420.52" y1="303.95" x2="420.52" y2="363.14" stroke="#404040" stroke-width="1.25" />
<line x1="455.49" y1="274.57" x2="455.49" y2="338.70" stroke="#404040" stroke-width="1.25" />
<line x1="462.67" y1="327.71" x2="462.67" y2="341.61" stroke="#404040" stroke-width="1.25" />
<line x1="469.62" y1="299.24" x2="469.62" y2="318.52" stroke="#404040" stroke-width="1.25" />
<line x1="476.57" y1="335.11" x2="476.57" y2="353.05" stroke="#404040" stroke-width="1.25" />
<line x1="483.74" y1="314.71" x2="483.74" y2="338.92" stroke="#404040" stroke-width="1.25" />
<line x1="490.70" y1="301.70" x2="490.70" y2="333.99" stroke="#404040" stroke-width="1.25" />
<line x1="499.75" y1="407.40" x2="499.75" y2="441.34" stroke="#404040" stroke-width="1.25" />
<line x1="506.15" y1="414.35" x2="506.15" y2="449.41" stroke="#404040" stroke-width="1.25" />
<line x1="512.55" y1="412.41" x2="512.55" y2="441.34" stroke="#404040" stroke-width="1.25" />
<line x1="521.17" y1="394.88" x2="521.17" y2="431.05" stroke="#404040" stroke-width="1.25" />
<line x1="528.13" y1="404.62" x2="528.13" y2="434.66" stroke="#404040" stroke-width="1.25" />
<line x1="535.32" y1="400.44" x2="535.32" y2="429.38" stroke="#404040" stroke-width="1.25" />
<line x1="542.21" y1="379.58" x2="542.21" y2="414.63" stroke="#404040" stroke-width="1.25" />
<line x1="548.84" y1="375.13" x2="548.84" y2="409.07" stroke="#404040" stroke-width="1.25" />
<line x1="556.01" y1="375.13" x2="556.01" y2="409.07" stroke="#404040" stroke-width="1.25" />
<line x1="562.91" y1="363.44" x2="562.91" y2="409.62" stroke="#404040" stroke-width="1.25" />
<line x1="569.81" y1="367.06" x2="569.81" y2="414.91" stroke="#404040" stroke-width="1.25" />
<line x1="576.70" y1="370.12" x2="576.70" y2="414.08" stroke="#404040" stroke-width="1.25" />
<line x1="583.60" y1="362.05" x2="583.60" y2="408.23" stroke="#404040" stroke-width="1.25" />
<line x1="590.50" y1="365.11" x2="590.50" y2="407.95" stroke="#404040" stroke-width="1.25" />
<line x1="597.40" y1="369.29" x2="597.40" y2="419.36" stroke="#404040" stroke-width="1.25" />
<line x1="604.30" y1="374.57" x2="604.30" y2="420.75" stroke="#404040" stroke-width="1.25" />
<line x1="611.19" y1="378.74" x2="611.19" y2="413.80" stroke="#404040" stroke-width="1.25" />
<line x1="618.37" y1="370.68" x2="618.37" y2="416.86" stroke="#404040" stroke-width="1.25" />
<line x1="627.47" y1="373.46" x2="627.47" y2="412.41" stroke="#404040" stroke-width="1.25" />
<line x1="634.37" y1="385.98" x2="634.37" y2="423.81" stroke="#404040" stroke-width="1.25" />
<line x1="641.27" y1="369.01" x2="641.27" y2="415.19" stroke="#404040" stroke-width="1.25" />
<line x1="648.17" y1="363.44" x2="648.17" y2="405.73" stroke="#404040" stroke-width="1.25" />
<line x1="654.79" y1="362.33" x2="654.79" y2="414.63" stroke="#404040" stroke-width="1.25" />
<line x1="385.31" y1="343.63" x2="385.31" y2="363.81" stroke="#404040" stroke-width="1.25" />
<line x1="392.49" y1="333.32" x2="392.49" y2="353.50" stroke="#404040" stroke-width="1.25" />
<line x1="399.44" y1="337.80" x2="399.44" y2="354.84" stroke="#404040" stroke-width="1.25" />
<line x1="406.39" y1="312.69" x2="406.39" y2="329.73" stroke="#404040" stroke-width="1.25" />
<line x1="413.57" y1="320.54" x2="413.57" y2="338.48" stroke="#404040" stroke-width="1.25" />
<line x1="420.52" y1="300.81" x2="420.52" y2="326.82" stroke="#404040" stroke-width="1.25" />
<line x1="427.47" y1="317.62" x2="427.47" y2="339.60" stroke="#404040" stroke-width="1.25" />
<line x1="434.42" y1="317.62" x2="434.42" y2="341.84" stroke="#404040" stroke-width="1.25" />
<line x1="441.37" y1="314.26" x2="441.37" y2="333.54" stroke="#404040" stroke-width="1.25" />
<line x1="448.32" y1="297.67" x2="448.32" y2="339.82" stroke="#404040" stroke-width="1.25" />
<line x1="455.49" y1="307.31" x2="455.49" y2="337.35" stroke="#404040" stroke-width="1.25" />
<line x1="462.67" y1="299.46" x2="462.67" y2="327.26" stroke="#404040" stroke-width="1.25" />
<line x1="469.62" y1="307.53" x2="469.62" y2="333.54" stroke="#404040" stroke-width="1.25" />
<line x1="476.57" y1="303.95" x2="476.57" y2="336.23" stroke="#404040" stroke-width="1.25" />
<line x1="483.74" y1="282.87" x2="483.74" y2="336.68" stroke="#404040" stroke-width="1.25" />
<line x1="490.70" y1="305.29" x2="490.70" y2="333.09" stroke="#404040" stroke-width="1.25" />
<line x1="499.75" y1="348.42" x2="499.75" y2="395.71" stroke="#404040" stroke-width="1.25" />
<line x1="506.15" y1="348.42" x2="506.15" y2="376.24" stroke="#404040" stroke-width="1.25" />
<line x1="512.55" y1="332.84" x2="512.55" y2="379.02" stroke="#404040" stroke-width="1.25" />
<line x1="521.17" y1="329.78" x2="521.17" y2="383.75" stroke="#404040" stroke-width="1.25" />
<line x1="528.13" y1="311.98" x2="528.13" y2="333.12" stroke="#404040" stroke-width="1.25" />
<line x1="535.32" y1="303.08" x2="535.32" y2="350.37" stroke="#404040" stroke-width="1.25" />
<line x1="542.21" y1="310.86" x2="542.21" y2="340.35" stroke="#404040" stroke-width="1.25" />
<line x1="548.84" y1="319.21" x2="548.84" y2="345.36" stroke="#404040" stroke-width="1.25" />
<line x1="556.01" y1="325.89" x2="556.01" y2="339.80" stroke="#404040" stroke-width="1.25" />
<line x1="562.91" y1="301.41" x2="562.91" y2="352.59" stroke="#404040" stroke-width="1.25" />
<line x1="569.81" y1="313.65" x2="569.81" y2="343.14" stroke="#404040" stroke-width="1.25" />
<line x1="576.70" y1="307.80" x2="576.70" y2="317.82" stroke="#404040" stroke-width="1.25" />
<line x1="583.60" y1="335.35" x2="583.60" y2="359.27" stroke="#404040" stroke-width="1.25" />
<line x1="590.50" y1="292.78" x2="590.50" y2="310.59" stroke="#404040" stroke-width="1.25" />
<line x1="597.40" y1="306.97" x2="597.40" y2="321.99" stroke="#404040" stroke-width="1.25" />
<line x1="604.30" y1="330.34" x2="604.30" y2="344.25" stroke="#404040" stroke-width="1.25" />
<line x1="611.19" y1="294.17" x2="611.19" y2="338.13" stroke="#404040" stroke-width="1.25" />
<line x1="618.37" y1="284.16" x2="618.37" y2="327.00" stroke="#404040" stroke-width="1.25" />
<line x1="627.47" y1="323.11" x2="627.47" y2="345.36" stroke="#404040" stroke-width="1.25" />
<line x1="634.37" y1="315.04" x2="634.37" y2="340.08" stroke="#404040" stroke-width="1.25" />
<line x1="641.27" y1="311.98" x2="641.27" y2="348.14" stroke="#404040" stroke-width="1.25" />
<line x1="648.17" y1="313.65" x2="648.17" y2="339.80" stroke="#404040" stroke-width="1.25" />
<line x1="654.79" y1="313.37" x2="654.79" y2="370.12" stroke="#404040" stroke-width="1.25" />
<path d="M385.31,347.44 L392.49,348.57 L399.44,321.21 L406.39,328.61 L413.57,323.45 L420.52,333.54 L455.49,306.64 L462.67,334.66 L469.62,308.88 L476.57,344.08 L483.74,326.82 L490.70,317.85" fill="none" stroke="#111" stroke-width="1.2" stroke-linejoin="round"/>
<path d="M490.70,317.85 L494.30,372.63" fill="none" stroke="#111" stroke-width="1.2" stroke-linejoin="round"/>
<path d="M496.55,375.67 L499.75,424.37" fill="none" stroke="#111" stroke-width="1.2" stroke-linejoin="round"/>
<path d="M499.75,424.37 L506.15,431.88 L512.55,426.87" fill="none" stroke="#111" stroke-width="1.2" stroke-linejoin="round"/>
<path d="M512.55,426.87 L517.55,416.94" fill="none" stroke="#111" stroke-width="1.2" stroke-linejoin="round"/>
<path d="M521.17,412.96 L528.13,419.64 L535.32,414.91 L542.21,397.11 L548.84,392.10 L556.01,392.10 L562.91,386.53 L569.81,390.98 L576.70,392.10 L583.60,385.14 L590.50,386.53 L597.40,394.32 L604.30,397.66 L611.19,396.27 L618.37,393.77" fill="none" stroke="#111" stroke-width="1.2" stroke-linejoin="round"/>
<path d="M618.37,393.77 L622.57,393.27" fill="none" stroke="#111" stroke-width="1.2" stroke-linejoin="round"/>
<path d="M627.47,392.93 L634.37,404.89 L641.27,392.10 L648.17,384.59 L654.79,388.48" fill="none" stroke="#111" stroke-width="1.2" stroke-linejoin="round"/>
<circle cx="385.31" cy="347.44" r="2.8" fill="#0a0a0a"/>
<circle cx="392.49" cy="348.57" r="2.8" fill="#0a0a0a"/>
<circle cx="399.44" cy="321.21" r="2.8" fill="#0a0a0a"/>
<circle cx="406.39" cy="328.61" r="2.8" fill="#0a0a0a"/>
<circle cx="413.57" cy="323.45" r="2.8" fill="#0a0a0a"/>
<circle cx="420.52" cy="333.54" r="2.8" fill="#0a0a0a"/>
<circle cx="455.49" cy="306.64" r="2.8" fill="#0a0a0a"/>
<circle cx="462.67" cy="334.66" r="2.8" fill="#0a0a0a"/>
<circle cx="469.62" cy="308.88" r="2.8" fill="#0a0a0a"/>
<circle cx="476.57" cy="344.08" r="2.8" fill="#0a0a0a"/>
<circle cx="483.74" cy="326.82" r="2.8" fill="#0a0a0a"/>
<circle cx="490.70" cy="317.85" r="2.8" fill="#0a0a0a"/>
<circle cx="499.75" cy="424.37" r="2.8" fill="#0a0a0a"/>
<circle cx="506.15" cy="431.88" r="2.8" fill="#0a0a0a"/>
<circle cx="512.55" cy="426.87" r="2.8" fill="#0a0a0a"/>
<circle cx="521.17" cy="412.96" r="2.8" fill="#0a0a0a"/>
<circle cx="528.13" cy="419.64" r="2.8" fill="#0a0a0a"/>
<circle cx="535.32" cy="414.91" r="2.8" fill="#0a0a0a"/>
<circle cx="542.21" cy="397.11" r="2.8" fill="#0a0a0a"/>
<circle cx="548.84" cy="392.10" r="2.8" fill="#0a0a0a"/>
<circle cx="556.01" cy="392.10" r="2.8" fill="#0a0a0a"/>
<circle cx="562.91" cy="386.53" r="2.8" fill="#0a0a0a"/>
<circle cx="569.81" cy="390.98" r="2.8" fill="#0a0a0a"/>
<circle cx="576.70" cy="392.10" r="2.8" fill="#0a0a0a"/>
<circle cx="583.60" cy="385.14" r="2.8" fill="#0a0a0a"/>
<circle cx="590.50" cy="386.53" r="2.8" fill="#0a0a0a"/>
<circle cx="597.40" cy="394.32" r="2.8" fill="#0a0a0a"/>
<circle cx="604.30" cy="397.66" r="2.8" fill="#0a0a0a"/>
<circle cx="611.19" cy="396.27" r="2.8" fill="#0a0a0a"/>
<circle cx="618.37" cy="393.77" r="2.8" fill="#0a0a0a"/>
<circle cx="627.47" cy="392.93" r="2.8" fill="#0a0a0a"/>
<circle cx="634.37" cy="404.89" r="2.8" fill="#0a0a0a"/>
<circle cx="641.27" cy="392.10" r="2.8" fill="#0a0a0a"/>
<circle cx="648.17" cy="384.59" r="2.8" fill="#0a0a0a"/>
<circle cx="654.79" cy="388.48" r="2.8" fill="#0a0a0a"/>
<path d="M385.31,353.72 L392.49,343.41 L399.44,346.32 L406.39,321.21 L413.57,329.51 L420.52,313.81 L427.47,328.61 L434.42,329.73 L441.37,323.90 L448.32,318.74 L455.49,322.33 L462.67,313.36 L469.62,320.54 L476.57,320.09 L483.74,309.78 L490.70,319.19" fill="none" stroke="#111" stroke-width="1.2" stroke-linejoin="round"/>
<path d="M490.70,319.19 L494.30,346.39" fill="none" stroke="#111" stroke-width="1.2" stroke-linejoin="round"/>
<path d="M496.55,347.90 L499.75,372.07" fill="none" stroke="#111" stroke-width="1.2" stroke-linejoin="round"/>
<path d="M499.75,372.07 L506.15,362.33 L512.55,355.93" fill="none" stroke="#111" stroke-width="1.2" stroke-linejoin="round"/>
<path d="M512.55,355.93 L517.55,356.53" fill="none" stroke="#111" stroke-width="1.2" stroke-linejoin="round"/>
<path d="M521.17,356.77 L528.13,322.55 L535.32,326.72 L542.21,325.61 L548.84,332.29 L556.01,332.84 L562.91,327.00 L569.81,328.39 L576.70,312.81 L583.60,347.31 L590.50,301.68 L597.40,314.48 L604.30,337.29 L611.19,316.15 L618.37,305.58" fill="none" stroke="#111" stroke-width="1.2" stroke-linejoin="round"/>
<path d="M618.37,305.58 L622.57,322.77" fill="none" stroke="#111" stroke-width="1.2" stroke-linejoin="round"/>
<path d="M624.27,321.13 L627.47,334.23" fill="none" stroke="#111" stroke-width="1.2" stroke-linejoin="round"/>
<path d="M627.47,334.23 L634.37,327.56 L641.27,330.06 L648.17,326.72 L654.79,341.74" fill="none" stroke="#111" stroke-width="1.2" stroke-linejoin="round"/>
<circle cx="385.31" cy="353.72" r="2.35" fill="#fff" stroke="#111" stroke-width="0.95"/>
<circle cx="392.49" cy="343.41" r="2.35" fill="#fff" stroke="#111" stroke-width="0.95"/>
<circle cx="399.44" cy="346.32" r="2.35" fill="#fff" stroke="#111" stroke-width="0.95"/>
<circle cx="406.39" cy="321.21" r="2.35" fill="#fff" stroke="#111" stroke-width="0.95"/>
<circle cx="413.57" cy="329.51" r="2.35" fill="#fff" stroke="#111" stroke-width="0.95"/>
<circle cx="420.52" cy="313.81" r="2.35" fill="#fff" stroke="#111" stroke-width="0.95"/>
<circle cx="427.47" cy="328.61" r="2.35" fill="#fff" stroke="#111" stroke-width="0.95"/>
<circle cx="434.42" cy="329.73" r="2.35" fill="#fff" stroke="#111" stroke-width="0.95"/>
<circle cx="441.37" cy="323.90" r="2.35" fill="#fff" stroke="#111" stroke-width="0.95"/>
<circle cx="448.32" cy="318.74" r="2.35" fill="#fff" stroke="#111" stroke-width="0.95"/>
<circle cx="455.49" cy="322.33" r="2.35" fill="#fff" stroke="#111" stroke-width="0.95"/>
<circle cx="462.67" cy="313.36" r="2.35" fill="#fff" stroke="#111" stroke-width="0.95"/>
<circle cx="469.62" cy="320.54" r="2.35" fill="#fff" stroke="#111" stroke-width="0.95"/>
<circle cx="476.57" cy="320.09" r="2.35" fill="#fff" stroke="#111" stroke-width="0.95"/>
<circle cx="483.74" cy="309.78" r="2.35" fill="#fff" stroke="#111" stroke-width="0.95"/>
<circle cx="490.70" cy="319.19" r="2.35" fill="#fff" stroke="#111" stroke-width="0.95"/>
<circle cx="499.75" cy="372.07" r="2.35" fill="#fff" stroke="#111" stroke-width="0.95"/>
<circle cx="506.15" cy="362.33" r="2.35" fill="#fff" stroke="#111" stroke-width="0.95"/>
<circle cx="512.55" cy="355.93" r="2.35" fill="#fff" stroke="#111" stroke-width="0.95"/>
<circle cx="521.17" cy="356.77" r="2.35" fill="#fff" stroke="#111" stroke-width="0.95"/>
<circle cx="528.13" cy="322.55" r="2.35" fill="#fff" stroke="#111" stroke-width="0.95"/>
<circle cx="535.32" cy="326.72" r="2.35" fill="#fff" stroke="#111" stroke-width="0.95"/>
<circle cx="542.21" cy="325.61" r="2.35" fill="#fff" stroke="#111" stroke-width="0.95"/>
<circle cx="548.84" cy="332.29" r="2.35" fill="#fff" stroke="#111" stroke-width="0.95"/>
<circle cx="556.01" cy="332.84" r="2.35" fill="#fff" stroke="#111" stroke-width="0.95"/>
<circle cx="562.91" cy="327.00" r="2.35" fill="#fff" stroke="#111" stroke-width="0.95"/>
<circle cx="569.81" cy="328.39" r="2.35" fill="#fff" stroke="#111" stroke-width="0.95"/>
<circle cx="576.70" cy="312.81" r="2.35" fill="#fff" stroke="#111" stroke-width="0.95"/>
<circle cx="583.60" cy="347.31" r="2.35" fill="#fff" stroke="#111" stroke-width="0.95"/>
<circle cx="590.50" cy="301.68" r="2.35" fill="#fff" stroke="#111" stroke-width="0.95"/>
<circle cx="597.40" cy="314.48" r="2.35" fill="#fff" stroke="#111" stroke-width="0.95"/>
<circle cx="604.30" cy="337.29" r="2.35" fill="#fff" stroke="#111" stroke-width="0.95"/>
<circle cx="611.19" cy="316.15" r="2.35" fill="#fff" stroke="#111" stroke-width="0.95"/>
<circle cx="618.37" cy="305.58" r="2.35" fill="#fff" stroke="#111" stroke-width="0.95"/>
<circle cx="627.47" cy="334.23" r="2.35" fill="#fff" stroke="#111" stroke-width="0.95"/>
<circle cx="634.37" cy="327.56" r="2.35" fill="#fff" stroke="#111" stroke-width="0.95"/>
<circle cx="641.27" cy="330.06" r="2.35" fill="#fff" stroke="#111" stroke-width="0.95"/>
<circle cx="648.17" cy="326.72" r="2.35" fill="#fff" stroke="#111" stroke-width="0.95"/>
<circle cx="654.79" cy="341.74" r="2.35" fill="#fff" stroke="#111" stroke-width="0.95"/>
<text x="346.60" y="247.80" transform="rotate(0.05 346.60 247.80)" font-size="10.1" text-anchor="start" font-weight="bold" >D</text>
<circle cx="610.0" cy="264.3" r="2.6" fill="#0a0a0a"/>
<circle cx="610.0" cy="275.9" r="2.0" fill="#fff" stroke="#111" stroke-width="0.9"/>
<text x="617.70" y="267.50" transform="rotate(0.05 617.70 267.50)" font-size="9.9" text-anchor="start" font-weight="normal" >Vehicle</text>
<text x="617.70" y="279.20" transform="rotate(0.05 617.70 279.20)" font-size="9.9" text-anchor="start" font-weight="normal" >Emetine</text>
<text x="424.00" y="390.50" transform="rotate(0.05 424.00 390.50)" font-size="10.6" text-anchor="middle" font-weight="normal" >Injection</text>
<line x1="424.50" y1="378.50" x2="424.50" y2="363.00" stroke="#111" stroke-width="1.35" />
<path d="M422.30,365.20 L424.50,361.00 L426.70,365.20 Z" fill="#111"/>
<text x="497.50" y="284.50" transform="rotate(0.05 497.50 284.50)" font-size="10.6" text-anchor="middle" font-weight="normal" >LFS</text>
<line x1="497.50" y1="290.50" x2="497.50" y2="306.30" stroke="#111" stroke-width="1.35" />
<path d="M495.30,304.10 L497.50,308.30 L499.70,304.10 Z" fill="#111"/>
<text x="8.20" y="495.60" transform="rotate(0.05 8.20 495.60)" font-size="10.1" text-anchor="start" font-weight="bold" >E</text>
<text x="347.40" y="495.80" transform="rotate(0.05 347.40 495.80)" font-size="10.1" text-anchor="start" font-weight="bold" >F</text>
<text x="49.29" y="497.30" transform="rotate(0.05 49.29 497.30)" font-size="10.8" text-anchor="start" font-weight="bold" >(i)</text>
<text x="80.25" y="497.30" transform="rotate(0.05 80.25 497.30)" font-size="10.8" text-anchor="start" font-weight="bold" >(ii)</text>
<text x="114.72" y="497.30" transform="rotate(0.05 114.72 497.30)" font-size="10.8" text-anchor="start" font-weight="bold" >(iii)</text>
<line x1="49.51" y1="504.16" x2="49.51" y2="546.55" stroke="#333" stroke-width="0.9" />
<line x1="49.51" y1="512.18" x2="49.51" y2="546.55" stroke="#1a1a1a" stroke-width="1.5" />
<line x1="48.25" y1="512.41" x2="50.65" y2="512.41" stroke="#444" stroke-width="0.8" />
<path d="M50.31,517.91 C50.46,517.24 50.89,514.85 51.24,513.90 C51.58,512.95 52.02,512.13 52.37,512.18 C52.72,512.24 52.93,512.91 53.33,514.23 C53.73,515.56 54.38,518.57 54.78,520.14 C55.17,521.70 55.29,522.82 55.69,523.64 C56.09,524.45 56.66,525.01 57.18,525.01 C57.70,525.01 58.14,524.61 58.82,523.64 C59.50,522.67 60.31,520.52 61.28,519.19 C62.25,517.85 62.73,516.63 64.63,515.62 C66.52,514.60 71.31,513.52 72.65,513.10" fill="none" stroke="#1c1c1c" stroke-width="1.0" stroke-linecap="round" stroke-linejoin="round"/>
<line x1="82.15" y1="501.87" x2="82.15" y2="546.55" stroke="#333" stroke-width="0.9" />
<line x1="82.15" y1="512.18" x2="82.15" y2="546.55" stroke="#1a1a1a" stroke-width="1.5" />
<line x1="80.89" y1="512.18" x2="83.30" y2="512.18" stroke="#444" stroke-width="0.8" />
<path d="M82.96,517.91 C83.13,517.21 83.60,514.73 83.99,513.74 C84.37,512.75 84.88,511.77 85.25,511.95 C85.61,512.13 85.78,512.97 86.16,514.83 C86.54,516.69 87.17,520.83 87.54,523.10 C87.90,525.37 87.96,527.31 88.34,528.45 C88.72,529.59 89.31,529.94 89.83,529.94 C90.35,529.94 90.68,529.99 91.47,528.45 C92.25,526.91 93.39,522.94 94.55,520.70 C95.71,518.47 96.63,516.75 98.42,515.05 C100.21,513.34 104.15,511.23 105.29,510.46" fill="none" stroke="#1c1c1c" stroke-width="1.0" stroke-linecap="round" stroke-linejoin="round"/>
<line x1="114.32" y1="498.44" x2="114.32" y2="512.18" stroke="#333" stroke-width="0.9" />
<path d="M115.46,544.83 C115.50,542.82 115.58,537.00 115.69,532.80 C115.81,528.60 115.96,522.78 116.15,519.63 C116.34,516.48 116.57,515.05 116.84,513.90 C117.11,512.75 117.45,512.47 117.75,512.75 C118.06,513.04 118.29,513.61 118.67,515.62 C119.05,517.62 119.53,522.40 120.05,524.78 C120.56,527.17 121.23,529.46 121.76,529.94 C122.30,530.41 122.68,529.17 123.25,527.65 C123.83,526.12 124.49,522.68 125.20,520.77 C125.91,518.86 126.54,517.37 127.49,516.19 C128.45,515.01 129.25,514.47 130.93,513.67 C132.61,512.87 136.46,511.76 137.57,511.38" fill="none" stroke="#1c1c1c" stroke-width="1.0" stroke-linecap="round" stroke-linejoin="round"/>
<path d="M133.22,520.20 L133.22,527.30 L139.52,527.30" fill="none" stroke="#111" stroke-width="1.2"/>
<line x1="47.73" y1="549.93" x2="47.73" y2="605.86" stroke="#333" stroke-width="0.9" />
<line x1="47.73" y1="566.38" x2="47.73" y2="605.86" stroke="#1a1a1a" stroke-width="1.5" />
<line x1="45.92" y1="566.38" x2="49.38" y2="566.38" stroke="#444" stroke-width="0.8" />
<path d="M48.55,572.96 C48.68,572.29 49.02,569.89 49.29,568.93 C49.57,567.97 49.84,566.99 50.20,567.20 C50.56,567.42 50.93,568.28 51.45,570.23 C51.97,572.18 52.76,576.53 53.32,578.93 C53.88,581.33 54.28,583.44 54.80,584.64 C55.32,585.84 55.87,586.12 56.45,586.12 C57.02,586.12 57.50,586.17 58.26,584.64 C59.01,583.11 59.90,579.16 60.97,576.94 C62.04,574.72 62.82,572.94 64.67,571.32 C66.52,569.69 70.84,567.89 72.07,567.20" fill="none" stroke="#1c1c1c" stroke-width="1.0" stroke-linecap="round" stroke-linejoin="round"/>
<line x1="82.27" y1="549.93" x2="82.27" y2="605.03" stroke="#333" stroke-width="0.9" />
<line x1="82.27" y1="564.74" x2="82.27" y2="605.03" stroke="#1a1a1a" stroke-width="1.5" />
<line x1="80.46" y1="564.74" x2="83.91" y2="564.74" stroke="#444" stroke-width="0.8" />
<path d="M83.09,571.32 C83.22,570.64 83.56,568.25 83.83,567.29 C84.11,566.33 84.38,565.36 84.74,565.56 C85.10,565.75 85.47,566.58 85.99,568.45 C86.51,570.32 87.30,574.49 87.86,576.78 C88.42,579.06 88.82,581.03 89.34,582.17 C89.86,583.32 90.41,583.65 90.99,583.65 C91.56,583.65 92.04,583.79 92.80,582.17 C93.55,580.56 94.44,576.32 95.51,573.96 C96.58,571.61 97.36,569.70 99.21,568.03 C101.06,566.35 105.38,564.60 106.61,563.91" fill="none" stroke="#1c1c1c" stroke-width="1.0" stroke-linecap="round" stroke-linejoin="round"/>
<line x1="116.81" y1="549.93" x2="116.81" y2="597.30" stroke="#333" stroke-width="1.2" />
<line x1="115.00" y1="565.07" x2="118.45" y2="565.07" stroke="#444" stroke-width="0.8" />
<path d="M117.63,572.14 C117.75,571.43 118.10,568.89 118.37,567.88 C118.65,566.86 118.93,565.94 119.28,566.05 C119.62,566.16 119.95,566.93 120.43,568.53 C120.91,570.12 121.63,573.72 122.15,575.64 C122.68,577.56 123.07,579.05 123.55,580.03 C124.03,581.01 124.51,581.51 125.03,581.51 C125.55,581.51 126.01,581.43 126.66,580.03 C127.31,578.64 128.02,575.15 128.92,573.15 C129.83,571.15 130.20,569.48 132.11,568.03 C134.01,566.57 138.96,565.01 140.33,564.41" fill="none" stroke="#1c1c1c" stroke-width="1.0" stroke-linecap="round" stroke-linejoin="round"/>
<path d="M136.22,574.61 L136.22,580.86 L142.80,580.86" fill="none" stroke="#111" stroke-width="1.2"/>
<text x="228.66" y="496.30" transform="rotate(0.05 228.66 496.30)" font-size="10.8" text-anchor="start" font-weight="bold" >(i)</text>
<text x="262.87" y="496.30" transform="rotate(0.05 262.87 496.30)" font-size="10.8" text-anchor="start" font-weight="bold" >(ii)</text>
<text x="297.08" y="496.30" transform="rotate(0.05 297.08 496.30)" font-size="10.8" text-anchor="start" font-weight="bold" >(iii)</text>
<line x1="229.11" y1="501.88" x2="229.11" y2="550.87" stroke="#333" stroke-width="0.9" />
<line x1="229.11" y1="512.19" x2="229.11" y2="534.54" stroke="#1a1a1a" stroke-width="1.6" />
<line x1="227.22" y1="512.19" x2="230.83" y2="512.19" stroke="#444" stroke-width="0.8" />
<path d="M229.97,519.07 C230.10,518.31 230.46,515.58 230.74,514.49 C231.03,513.41 231.37,512.44 231.69,512.53 C232.01,512.63 232.27,513.44 232.69,515.09 C233.10,516.74 233.63,520.41 234.18,522.45 C234.73,524.48 235.57,526.31 235.99,527.32 C236.40,528.33 236.43,528.52 236.68,528.52 C236.92,528.52 236.60,527.96 237.43,527.32 C238.27,526.67 240.29,525.74 241.69,524.65 C243.08,523.57 243.81,522.43 245.79,520.79 C247.76,519.14 252.23,515.77 253.52,514.77" fill="none" stroke="#1c1c1c" stroke-width="1.0" stroke-linecap="round" stroke-linejoin="round"/>
<line x1="264.35" y1="503.60" x2="264.35" y2="550.87" stroke="#333" stroke-width="1.0" />
<line x1="264.35" y1="512.19" x2="264.35" y2="550.87" stroke="#1a1a1a" stroke-width="1.5" />
<line x1="262.46" y1="512.19" x2="266.07" y2="512.19" stroke="#444" stroke-width="0.8" />
<path d="M265.04,518.21 C265.17,517.51 265.53,515.00 265.81,514.00 C266.10,512.99 266.42,512.11 266.76,512.19 C267.09,512.27 267.38,513.00 267.83,514.47 C268.27,515.95 268.83,519.24 269.42,521.04 C270.02,522.83 270.96,524.35 271.40,525.26 C271.85,526.16 271.85,526.46 272.09,526.46 C272.33,526.46 272.10,525.73 272.85,525.26 C273.59,524.78 275.31,524.37 276.53,523.62 C277.75,522.88 278.13,522.35 280.17,520.79 C282.21,519.22 287.33,515.34 288.76,514.25" fill="none" stroke="#1c1c1c" stroke-width="1.0" stroke-linecap="round" stroke-linejoin="round"/>
<line x1="299.59" y1="500.16" x2="299.59" y2="525.08" stroke="#333" stroke-width="1.1" />
<line x1="297.70" y1="511.85" x2="301.31" y2="511.85" stroke="#444" stroke-width="0.8" />
<path d="M300.45,512.88 C300.58,512.78 300.94,512.42 301.23,512.28 C301.51,512.13 301.81,511.76 302.17,512.02 C302.53,512.28 302.87,512.66 303.38,513.83 C303.88,515.01 304.52,517.64 305.18,519.05 C305.84,520.47 306.83,521.62 307.33,522.33 C307.83,523.05 307.89,523.37 308.19,523.37 C308.49,523.37 308.39,523.04 309.14,522.33 C309.88,521.62 311.44,520.23 312.63,519.11 C313.82,517.99 314.37,516.87 316.27,515.63 C318.16,514.39 322.72,512.33 324.01,511.68" fill="none" stroke="#1c1c1c" stroke-width="1.0" stroke-linecap="round" stroke-linejoin="round"/>
<path d="M319.71,520.79 L319.71,528.01 L326.93,528.01" fill="none" stroke="#111" stroke-width="1.2"/>
<line x1="229.46" y1="553.74" x2="229.46" y2="605.31" stroke="#333" stroke-width="0.9" />
<line x1="229.46" y1="564.91" x2="229.46" y2="589.84" stroke="#1a1a1a" stroke-width="1.6" />
<line x1="227.56" y1="564.57" x2="231.17" y2="564.57" stroke="#444" stroke-width="0.8" />
<path d="M230.31,570.93 C230.44,570.22 230.80,567.72 231.09,566.72 C231.37,565.71 231.70,564.77 232.03,564.91 C232.36,565.05 232.64,565.86 233.07,567.58 C233.49,569.30 234.04,573.11 234.61,575.25 C235.19,577.38 236.07,579.33 236.50,580.38 C236.93,581.44 236.95,581.59 237.19,581.59 C237.43,581.59 237.16,581.36 237.95,580.38 C238.74,579.40 240.61,577.14 241.92,575.71 C243.23,574.27 243.71,572.73 245.79,571.79 C247.86,570.85 252.95,570.35 254.38,570.07" fill="none" stroke="#1c1c1c" stroke-width="1.0" stroke-linecap="round" stroke-linejoin="round"/>
<line x1="264.70" y1="558.03" x2="264.70" y2="605.31" stroke="#333" stroke-width="1.0" />
<line x1="264.70" y1="558.03" x2="264.70" y2="605.31" stroke="#1a1a1a" stroke-width="1.5" />
<line x1="262.81" y1="563.19" x2="266.42" y2="563.19" stroke="#444" stroke-width="0.8" />
<path d="M265.56,569.21 C265.69,568.57 266.04,566.27 266.33,565.36 C266.62,564.44 266.92,563.57 267.28,563.71 C267.63,563.84 267.98,564.58 268.48,566.18 C268.98,567.78 269.62,571.33 270.28,573.30 C270.94,575.26 271.93,577.00 272.43,577.98 C272.93,578.96 272.99,579.18 273.29,579.18 C273.59,579.18 273.45,579.32 274.24,577.98 C275.03,576.63 276.74,573.17 278.02,571.13 C279.29,569.10 279.95,567.29 281.89,565.77 C283.82,564.25 288.33,562.62 289.62,561.99" fill="none" stroke="#1c1c1c" stroke-width="1.0" stroke-linecap="round" stroke-linejoin="round"/>
<line x1="300.28" y1="553.74" x2="300.28" y2="605.31" stroke="#333" stroke-width="0.9" />
<line x1="300.28" y1="563.19" x2="300.28" y2="586.40" stroke="#1a1a1a" stroke-width="1.6" />
<line x1="298.39" y1="563.71" x2="302.00" y2="563.71" stroke="#444" stroke-width="0.8" />
<path d="M301.14,569.21 C301.28,568.61 301.68,566.46 301.99,565.60 C302.31,564.74 302.68,563.87 303.03,564.05 C303.39,564.23 303.67,564.98 304.13,566.66 C304.59,568.35 305.16,572.09 305.78,574.18 C306.40,576.26 307.39,578.14 307.85,579.18 C308.30,580.21 308.29,580.38 308.53,580.38 C308.77,580.38 308.50,579.89 309.29,579.18 C310.08,578.46 311.95,577.32 313.26,576.08 C314.57,574.85 315.20,573.31 317.13,571.79 C319.06,570.27 323.58,567.78 324.87,566.97" fill="none" stroke="#1c1c1c" stroke-width="1.0" stroke-linecap="round" stroke-linejoin="round"/>
<path d="M320.57,573.51 L320.57,580.38 L327.44,580.38" fill="none" stroke="#111" stroke-width="1.2"/>
<text x="387.02" y="497.70" transform="rotate(0.05 387.02 497.70)" font-size="10.8" text-anchor="start" font-weight="bold" >(i)</text>
<text x="418.44" y="497.70" transform="rotate(0.05 418.44 497.70)" font-size="10.8" text-anchor="start" font-weight="bold" >(ii)</text>
<text x="452.69" y="497.70" transform="rotate(0.05 452.69 497.70)" font-size="10.8" text-anchor="start" font-weight="bold" >(iii)</text>
<path d="M387.88,509.92 L387.88,514.74 Q387.88,515.34 386.88,515.34" fill="none" stroke="#444" stroke-width="0.8"/>
<path d="M388.75,538.10 C388.80,536.17 388.86,529.86 389.07,526.50 C389.29,523.14 389.71,519.88 390.05,517.94 C390.39,516.01 390.74,514.91 391.13,514.91 C391.53,514.91 391.91,516.60 392.43,517.94 C392.96,519.29 393.77,521.53 394.28,522.97 C394.78,524.42 394.94,525.72 395.47,526.61 C395.99,527.51 396.77,528.32 397.42,528.35 C398.07,528.38 398.34,527.86 399.37,526.79 C400.40,525.72 401.86,523.72 403.60,521.92 C405.33,520.12 408.74,516.98 409.77,515.99" fill="none" stroke="#1c1c1c" stroke-width="1.0" stroke-linecap="round" stroke-linejoin="round"/>
<path d="M418.88,508.84 L418.88,513.66 Q418.88,514.26 417.88,514.26" fill="none" stroke="#444" stroke-width="0.8"/>
<path d="M419.53,539.18 C419.58,536.93 419.56,529.65 419.85,525.64 C420.14,521.63 420.84,517.38 421.26,515.13 C421.67,512.87 421.95,512.09 422.34,512.09 C422.74,512.09 423.10,513.18 423.64,515.13 C424.19,517.08 425.05,521.34 425.59,523.79 C426.14,526.25 426.35,528.56 426.89,529.86 C427.44,531.16 428.19,531.57 428.84,531.60 C429.50,531.63 429.80,531.30 430.80,530.04 C431.79,528.78 433.14,526.21 434.80,524.05 C436.47,521.89 439.77,518.24 440.77,517.08" fill="none" stroke="#1c1c1c" stroke-width="1.0" stroke-linecap="round" stroke-linejoin="round"/>
<path d="M449.87,507.76 L449.87,512.58 Q449.87,513.18 448.87,513.18" fill="none" stroke="#444" stroke-width="0.8"/>
<path d="M450.30,545.25 C450.36,542.54 450.34,533.91 450.63,529.00 C450.92,524.08 451.62,518.49 452.04,515.78 C452.45,513.07 452.72,512.74 453.12,512.74 C453.52,512.74 453.79,513.89 454.42,515.78 C455.05,517.66 456.19,521.71 456.91,524.06 C457.63,526.40 458.12,528.61 458.75,529.86 C459.39,531.12 460.05,531.57 460.70,531.60 C461.35,531.63 461.75,531.16 462.65,530.04 C463.56,528.91 464.64,526.74 466.12,524.84 C467.60,522.93 470.64,519.63 471.54,518.59" fill="none" stroke="#1c1c1c" stroke-width="1.0" stroke-linecap="round" stroke-linejoin="round"/>
<path d="M466.77,528.35 L466.77,538.10 L472.62,538.10" fill="none" stroke="#111" stroke-width="1.2"/>
<path d="M389.83,593.37 C389.89,590.80 390.01,582.60 390.16,577.98 C390.30,573.35 390.43,568.19 390.70,565.62 C390.97,563.06 391.39,562.59 391.78,562.59 C392.18,562.59 392.43,563.74 393.08,565.62 C393.73,567.51 394.93,571.56 395.68,573.90 C396.44,576.25 396.99,578.45 397.64,579.71 C398.29,580.97 398.94,581.42 399.59,581.45 C400.24,581.47 400.63,581.43 401.54,579.89 C402.44,578.34 403.52,574.91 405.00,572.20 C406.49,569.50 409.52,565.10 410.42,563.67" fill="none" stroke="#1c1c1c" stroke-width="1.0" stroke-linecap="round" stroke-linejoin="round"/>
<line x1="389.40" y1="561.29" x2="389.40" y2="566.92" stroke="#444" stroke-width="0.8" />
<path d="M420.18,597.70 C420.23,594.90 420.25,586.00 420.50,580.90 C420.75,575.81 421.31,569.94 421.69,567.14 C422.07,564.34 422.38,564.11 422.78,564.11 C423.17,564.11 423.57,565.02 424.08,567.14 C424.58,569.27 425.34,574.11 425.81,576.85 C426.28,579.60 426.39,582.20 426.89,583.61 C427.40,585.03 428.19,585.32 428.84,585.35 C429.50,585.38 429.77,585.57 430.80,583.79 C431.82,582.00 433.29,577.81 435.02,574.64 C436.76,571.47 440.17,566.40 441.20,564.76" fill="none" stroke="#1c1c1c" stroke-width="1.0" stroke-linecap="round" stroke-linejoin="round"/>
<line x1="419.74" y1="563.02" x2="419.74" y2="568.44" stroke="#444" stroke-width="0.8" />
<path d="M450.30,598.78 C450.36,595.84 450.34,586.50 450.63,581.12 C450.92,575.74 451.62,569.44 452.04,566.49 C452.45,563.55 452.72,563.46 453.12,563.46 C453.52,563.46 453.79,564.69 454.42,566.49 C455.05,568.29 456.19,572.05 456.91,574.25 C457.63,576.45 458.12,578.51 458.75,579.71 C459.39,580.91 460.05,581.42 460.70,581.45 C461.35,581.47 461.75,581.20 462.65,579.89 C463.56,578.57 464.64,575.83 466.12,573.56 C467.60,571.29 470.64,567.49 471.54,566.27" fill="none" stroke="#1c1c1c" stroke-width="1.0" stroke-linecap="round" stroke-linejoin="round"/>
<line x1="449.65" y1="561.29" x2="449.65" y2="567.36" stroke="#444" stroke-width="0.8" />
<path d="M466.56,577.11 L466.56,586.86 L472.62,586.86" fill="none" stroke="#111" stroke-width="1.2"/>
<text x="566.79" y="496.00" transform="rotate(0.05 566.79 496.00)" font-size="10.8" text-anchor="start" font-weight="bold" >(i)</text>
<text x="600.79" y="496.00" transform="rotate(0.05 600.79 496.00)" font-size="10.8" text-anchor="start" font-weight="bold" >(ii)</text>
<text x="634.79" y="496.00" transform="rotate(0.05 634.79 496.00)" font-size="10.8" text-anchor="start" font-weight="bold" >(iii)</text>
<line x1="563.90" y1="511.38" x2="565.35" y2="511.38" stroke="#555" stroke-width="0.9" />
<path d="M565.76,546.41 C565.81,543.69 565.89,535.07 566.07,530.13 C566.24,525.18 566.50,519.45 566.79,516.73 C567.08,514.02 567.44,513.85 567.82,513.85 C568.20,513.85 568.71,515.35 569.05,516.73 C569.40,518.11 569.60,520.52 569.88,522.13 C570.15,523.75 570.36,525.50 570.70,526.42 C571.05,527.34 571.53,527.63 571.94,527.65 C572.35,527.67 572.33,527.75 573.18,526.54 C574.03,525.33 575.70,522.14 577.04,520.37 C578.38,518.60 579.07,517.44 581.21,515.91 C583.35,514.37 588.42,511.96 589.87,511.17" fill="none" stroke="#1c1c1c" stroke-width="1.0" stroke-linecap="round" stroke-linejoin="round"/>
<line x1="598.52" y1="511.38" x2="599.96" y2="511.38" stroke="#555" stroke-width="0.9" />
<path d="M601.20,552.59 C601.25,549.36 601.30,539.19 601.51,533.22 C601.71,527.24 602.11,519.96 602.44,516.73 C602.76,513.50 603.09,513.85 603.47,513.85 C603.84,513.85 604.32,515.81 604.70,516.73 C605.08,517.66 605.39,518.52 605.73,519.41 C606.08,520.30 606.39,521.47 606.76,522.09 C607.14,522.71 607.59,523.10 608.00,523.12 C608.41,523.14 608.48,523.05 609.24,522.19 C609.99,521.34 611.36,519.23 612.53,518.01 C613.70,516.79 614.18,516.09 616.24,514.88 C618.30,513.67 623.45,511.44 624.90,510.76" fill="none" stroke="#1c1c1c" stroke-width="1.0" stroke-linecap="round" stroke-linejoin="round"/>
<line x1="633.96" y1="511.79" x2="635.40" y2="511.79" stroke="#555" stroke-width="0.9" />
<path d="M636.23,557.12 C636.28,553.60 636.33,542.56 636.54,536.00 C636.74,529.44 637.14,521.28 637.47,517.76 C637.79,514.24 638.12,514.88 638.50,514.88 C638.87,514.88 639.39,516.84 639.73,517.76 C640.08,518.69 640.28,519.55 640.56,520.44 C640.83,521.33 641.04,522.50 641.38,523.12 C641.72,523.74 642.20,524.13 642.62,524.15 C643.03,524.17 643.06,524.08 643.85,523.22 C644.65,522.37 646.14,520.26 647.38,519.04 C648.61,517.82 649.08,516.95 651.27,515.91 C653.47,514.87 659.00,513.33 660.54,512.82" fill="none" stroke="#1c1c1c" stroke-width="1.0" stroke-linecap="round" stroke-linejoin="round"/>
<path d="M654.77,527.24 L654.77,538.58 L661.57,538.58" fill="none" stroke="#111" stroke-width="1.2"/>
<line x1="567.34" y1="559.89" x2="567.34" y2="598.91" stroke="#333" stroke-width="1.0" />
<line x1="567.34" y1="559.89" x2="567.34" y2="598.91" stroke="#1a1a1a" stroke-width="1.7" />
<line x1="565.34" y1="568.97" x2="569.16" y2="568.97" stroke="#444" stroke-width="0.8" />
<path d="M568.25,576.23 C568.41,575.48 568.87,572.84 569.23,571.78 C569.59,570.72 570.06,569.74 570.43,569.87 C570.80,570.01 571.02,570.83 571.44,572.57 C571.87,574.32 572.53,578.22 572.97,580.34 C573.40,582.46 573.63,584.23 574.06,585.30 C574.48,586.37 575.00,586.75 575.51,586.75 C576.02,586.75 576.32,586.39 577.11,585.30 C577.89,584.21 579.04,581.74 580.20,580.23 C581.36,578.71 582.19,577.71 584.04,576.23 C585.89,574.74 590.09,572.14 591.30,571.32" fill="none" stroke="#1c1c1c" stroke-width="1.0" stroke-linecap="round" stroke-linejoin="round"/>
<line x1="601.64" y1="566.24" x2="601.64" y2="599.82" stroke="#333" stroke-width="0.9" />
<line x1="599.65" y1="571.14" x2="603.46" y2="571.14" stroke="#444" stroke-width="0.8" />
<path d="M602.55,576.23 C602.70,575.55 603.12,573.13 603.45,572.16 C603.78,571.19 604.17,570.29 604.55,570.42 C604.92,570.55 605.22,571.31 605.71,572.94 C606.19,574.58 606.92,578.24 607.45,580.21 C607.98,582.18 608.42,583.75 608.90,584.75 C609.39,585.75 609.85,586.21 610.35,586.21 C610.86,586.21 611.20,585.88 611.95,584.75 C612.70,583.63 613.75,581.03 614.85,579.46 C615.94,577.88 616.70,576.76 618.52,575.32 C620.34,573.87 624.57,571.54 625.78,570.78" fill="none" stroke="#1c1c1c" stroke-width="1.0" stroke-linecap="round" stroke-linejoin="round"/>
<line x1="636.13" y1="559.89" x2="636.13" y2="598.91" stroke="#333" stroke-width="1.0" />
<line x1="636.13" y1="559.89" x2="636.13" y2="598.91" stroke="#1a1a1a" stroke-width="1.7" />
<line x1="634.13" y1="569.33" x2="637.94" y2="569.33" stroke="#444" stroke-width="0.8" />
<path d="M637.03,576.23 C637.21,575.48 637.70,572.84 638.09,571.78 C638.49,570.72 639.01,569.75 639.39,569.87 C639.77,569.99 639.96,570.80 640.37,572.49 C640.78,574.17 641.43,577.96 641.84,580.00 C642.25,582.04 642.43,583.72 642.84,584.75 C643.25,585.79 643.78,586.21 644.29,586.21 C644.80,586.21 645.09,585.88 645.89,584.75 C646.69,583.63 647.90,581.03 649.08,579.46 C650.27,577.88 651.14,576.61 653.00,575.32 C654.87,574.02 659.05,572.29 660.26,571.69" fill="none" stroke="#1c1c1c" stroke-width="1.0" stroke-linecap="round" stroke-linejoin="round"/>
<path d="M654.46,582.58 L654.46,594.37 L662.08,594.37" fill="none" stroke="#111" stroke-width="1.2"/>
</svg></body></html>
